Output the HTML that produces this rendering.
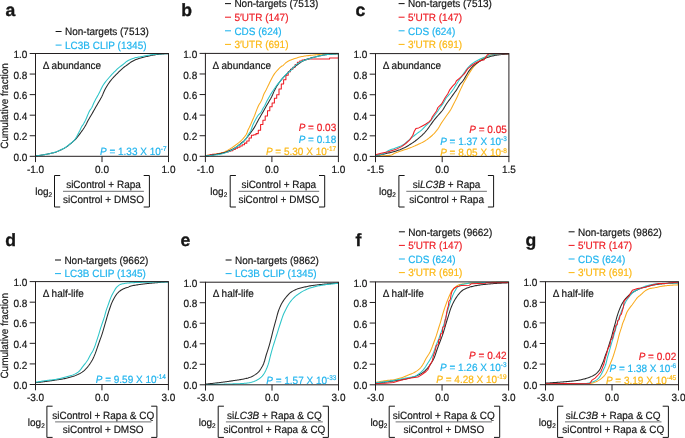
<!DOCTYPE html>
<html><head><meta charset="utf-8"><style>
html,body{margin:0;padding:0;background:#fff;}
svg{display:block;font-family:"Liberation Sans", sans-serif;text-rendering:geometricPrecision;}
body{filter:grayscale(0.0001);}
</style></head><body>
<svg width="685" height="438" viewBox="0 0 685 438">
<text transform="translate(5.60,16.00) scale(1,1.0)" fill="#151515" stroke="#151515" stroke-width="0.35" font-size="17.6" text-anchor="start" font-weight="bold" font-style="normal" >a</text>
<line x1="55.60" y1="31.50" x2="61.60" y2="31.50" stroke="#151515" stroke-width="1.05"/>
<text transform="translate(65.00,35.25) scale(1,1.05)" fill="#151515" stroke="#151515" stroke-width="0.18" font-size="10" text-anchor="start" font-weight="normal" font-style="normal" >Non-targets (7513)</text>
<line x1="55.60" y1="45.10" x2="61.60" y2="45.10" stroke="#20b4ee" stroke-width="1.05"/>
<text transform="translate(65.00,48.85) scale(1,1.05)" fill="#20b4ee" stroke="#20b4ee" stroke-width="0.18" font-size="10" text-anchor="start" font-weight="normal" font-style="normal" >LC3B CLIP (1345)</text>
<line x1="29.7" y1="156.30" x2="35.5" y2="156.30" stroke="#231f20" stroke-width="1"/>
<text transform="translate(27.30,160.95) scale(1,1.05)" fill="#151515" stroke="#151515" stroke-width="0.18" font-size="10" text-anchor="end" font-weight="normal" font-style="normal" >0.0</text>
<line x1="29.7" y1="135.74" x2="35.5" y2="135.74" stroke="#231f20" stroke-width="1"/>
<text transform="translate(27.30,140.39) scale(1,1.05)" fill="#151515" stroke="#151515" stroke-width="0.18" font-size="10" text-anchor="end" font-weight="normal" font-style="normal" >0.2</text>
<line x1="29.7" y1="115.18" x2="35.5" y2="115.18" stroke="#231f20" stroke-width="1"/>
<text transform="translate(27.30,119.83) scale(1,1.05)" fill="#151515" stroke="#151515" stroke-width="0.18" font-size="10" text-anchor="end" font-weight="normal" font-style="normal" >0.4</text>
<line x1="29.7" y1="94.62" x2="35.5" y2="94.62" stroke="#231f20" stroke-width="1"/>
<text transform="translate(27.30,99.27) scale(1,1.05)" fill="#151515" stroke="#151515" stroke-width="0.18" font-size="10" text-anchor="end" font-weight="normal" font-style="normal" >0.6</text>
<line x1="29.7" y1="74.06" x2="35.5" y2="74.06" stroke="#231f20" stroke-width="1"/>
<text transform="translate(27.30,78.71) scale(1,1.05)" fill="#151515" stroke="#151515" stroke-width="0.18" font-size="10" text-anchor="end" font-weight="normal" font-style="normal" >0.8</text>
<line x1="29.7" y1="53.50" x2="35.5" y2="53.50" stroke="#231f20" stroke-width="1"/>
<text transform="translate(27.30,58.15) scale(1,1.05)" fill="#151515" stroke="#151515" stroke-width="0.18" font-size="10" text-anchor="end" font-weight="normal" font-style="normal" >1.0</text>
<line x1="35.5" y1="156.3" x2="35.5" y2="162.10000000000002" stroke="#231f20" stroke-width="1"/>
<text transform="translate(35.50,172.95) scale(1,1.05)" fill="#151515" stroke="#151515" stroke-width="0.18" font-size="10" text-anchor="middle" font-weight="normal" font-style="normal" >-1.0</text>
<line x1="102.0" y1="156.3" x2="102.0" y2="162.10000000000002" stroke="#231f20" stroke-width="1"/>
<text transform="translate(102.00,172.95) scale(1,1.05)" fill="#151515" stroke="#151515" stroke-width="0.18" font-size="10" text-anchor="middle" font-weight="normal" font-style="normal" >0.0</text>
<line x1="168.5" y1="156.3" x2="168.5" y2="162.10000000000002" stroke="#231f20" stroke-width="1"/>
<text transform="translate(168.50,172.95) scale(1,1.05)" fill="#151515" stroke="#151515" stroke-width="0.18" font-size="10" text-anchor="middle" font-weight="normal" font-style="normal" >1.0</text>
<text transform="translate(7.85,106.0) rotate(-90) scale(1,1.05)" fill="#151515" stroke="#151515" stroke-width="0.18" font-size="10" text-anchor="middle">Cumulative fraction</text>
<text transform="translate(42.70,68.95) scale(1,1.05)" fill="#151515" stroke="#151515" stroke-width="0.18" font-size="10" text-anchor="start" font-weight="normal" font-style="normal" >&#916; abundance</text>
<path d="M35.50,155.80 L36.42,155.70 L37.34,155.61 L38.26,155.51 L39.18,155.41 L40.10,155.30 L40.95,155.19 L41.80,155.06 L42.65,154.93 L43.50,154.79 L44.35,154.65 L45.20,154.50 L46.05,154.35 L46.90,154.19 L47.75,154.03 L48.60,153.86 L49.45,153.68 L50.30,153.50 L51.15,153.31 L52.00,153.11 L52.85,152.91 L53.70,152.69 L54.55,152.46 L55.40,152.20 L56.25,151.91 L57.10,151.59 L57.95,151.24 L58.80,150.87 L59.65,150.49 L60.50,150.10 L61.37,149.70 L62.23,149.28 L63.10,148.85 L63.97,148.40 L64.83,147.92 L65.70,147.40 L66.55,146.84 L67.40,146.23 L68.25,145.58 L69.10,144.90 L69.95,144.20 L70.80,143.50 L71.62,142.83 L72.44,142.15 L73.26,141.44 L74.08,140.70 L74.90,139.90 L75.90,138.82 L76.90,137.63 L77.90,136.40 L78.68,135.42 L79.45,134.40 L80.22,133.36 L81.00,132.30 L82.00,130.92 L83.00,129.50 L84.00,128.00 L84.90,126.55 L85.80,125.00 L86.60,123.47 L87.40,121.85 L88.20,120.30 L89.13,118.65 L90.07,117.08 L91.00,115.50 L91.90,113.94 L92.80,112.38 L93.70,110.80 L94.60,109.20 L95.50,107.59 L96.40,106.00 L97.33,104.39 L98.27,102.81 L99.20,101.20 L100.10,99.66 L101.00,98.09 L101.90,96.40 L102.80,94.42 L103.70,92.28 L104.60,90.30 L105.50,88.58 L106.40,86.99 L107.30,85.50 L108.23,84.05 L109.17,82.68 L110.10,81.40 L110.95,80.30 L111.80,79.25 L112.65,78.25 L113.50,77.30 L114.35,76.41 L115.20,75.56 L116.05,74.74 L116.90,73.90 L117.72,73.07 L118.54,72.22 L119.36,71.38 L120.18,70.57 L121.00,69.80 L121.82,69.07 L122.64,68.37 L123.46,67.69 L124.28,67.03 L125.10,66.40 L125.90,65.82 L126.70,65.26 L127.50,64.70 L128.40,64.01 L129.30,63.30 L130.20,62.61 L131.10,62.00 L132.06,61.44 L133.02,60.92 L133.98,60.44 L134.94,60.00 L135.90,59.60 L136.86,59.23 L137.82,58.89 L138.78,58.58 L139.74,58.28 L140.70,58.00 L141.61,57.74 L142.53,57.50 L143.44,57.27 L144.36,57.04 L145.27,56.83 L146.19,56.61 L147.10,56.40 L148.03,56.18 L148.96,55.96 L149.89,55.75 L150.81,55.54 L151.74,55.34 L152.67,55.16 L153.60,55.00 L154.51,54.86 L155.43,54.73 L156.34,54.60 L157.26,54.49 L158.17,54.38 L159.09,54.29 L160.00,54.20 L160.94,54.12 L161.89,54.04 L162.83,53.97 L163.78,53.91 L164.72,53.85 L165.67,53.79 L166.61,53.73 L167.56,53.66 L168.50,53.60" fill="none" stroke="#2a2a2a" stroke-width="1.05" stroke-linejoin="round"/>
<path d="M35.50,155.80 L36.42,155.70 L37.34,155.61 L38.26,155.51 L39.18,155.41 L40.10,155.30 L40.95,155.19 L41.80,155.06 L42.65,154.93 L43.50,154.79 L44.35,154.65 L45.20,154.50 L46.05,154.35 L46.90,154.20 L47.75,154.03 L48.60,153.87 L49.45,153.69 L50.30,153.50 L51.15,153.30 L52.00,153.09 L52.85,152.86 L53.70,152.63 L54.55,152.37 L55.40,152.10 L56.25,151.81 L57.10,151.48 L57.95,151.14 L58.80,150.77 L59.65,150.39 L60.50,150.00 L61.37,149.59 L62.23,149.16 L63.10,148.71 L63.97,148.23 L64.83,147.73 L65.70,147.20 L66.55,146.63 L67.40,146.02 L68.25,145.36 L69.10,144.68 L69.95,143.99 L70.80,143.30 L71.70,142.59 L72.60,141.85 L73.50,141.00 L74.30,140.10 L75.10,139.06 L75.90,137.90 L76.90,136.19 L77.90,134.30 L78.60,132.97 L79.30,131.59 L80.00,130.20 L81.00,128.05 L82.00,126.10 L82.55,125.34 L83.10,124.60 L83.90,123.31 L84.70,121.88 L85.50,120.30 L86.50,117.96 L87.50,115.50 L88.20,113.84 L88.90,112.21 L89.60,110.80 L90.40,109.59 L91.20,108.55 L92.00,107.30 L92.85,105.32 L93.70,103.20 L94.40,101.75 L95.10,100.41 L95.80,99.10 L96.57,97.72 L97.33,96.38 L98.10,95.00 L98.90,93.47 L99.70,91.90 L100.50,90.30 L101.50,88.18 L102.50,86.20 L103.43,84.70 L104.37,83.36 L105.30,82.10 L106.15,81.01 L107.00,79.98 L107.85,78.98 L108.70,78.00 L109.55,77.02 L110.40,76.06 L111.25,75.11 L112.10,74.20 L112.95,73.32 L113.80,72.47 L114.65,71.63 L115.50,70.80 L116.43,69.87 L117.37,68.95 L118.30,68.10 L119.20,67.36 L120.10,66.68 L121.00,66.00 L122.00,65.25 L123.00,64.50 L124.00,63.66 L125.00,62.77 L126.00,61.91 L127.00,61.20 L127.82,60.72 L128.64,60.29 L129.46,59.90 L130.28,59.54 L131.10,59.20 L132.06,58.83 L133.02,58.47 L133.98,58.14 L134.94,57.85 L135.90,57.60 L136.83,57.40 L137.77,57.22 L138.70,57.07 L139.63,56.92 L140.57,56.76 L141.50,56.60 L142.43,56.42 L143.37,56.24 L144.30,56.05 L145.23,55.86 L146.17,55.68 L147.10,55.50 L148.03,55.33 L148.96,55.15 L149.89,54.97 L150.81,54.81 L151.74,54.65 L152.67,54.51 L153.60,54.40 L154.51,54.31 L155.43,54.22 L156.34,54.14 L157.26,54.07 L158.17,54.01 L159.09,53.95 L160.00,53.90 L160.94,53.86 L161.89,53.82 L162.83,53.78 L163.78,53.75 L164.72,53.72 L165.67,53.69 L166.61,53.66 L167.56,53.63 L168.50,53.60" fill="none" stroke="#2cc5c8" stroke-width="1.05" stroke-linejoin="round"/>
<rect x="35.5" y="53.5" width="133.00" height="102.80" fill="none" stroke="#231f20" stroke-width="1"/>
<text transform="translate(166.60,154.75) scale(1,1.05)" fill="#20b4ee" stroke="#20b4ee" stroke-width="0.18" font-size="10" text-anchor="end"><tspan font-style="italic">P</tspan> = 1.33 X 10<tspan font-size="6.5" dy="-3.7">-7</tspan></text>
<text transform="translate(35.20,195.05) scale(1,1.05)" fill="#151515" stroke="#151515" stroke-width="0.18" font-size="10" text-anchor="start" font-weight="normal" font-style="normal" >log<tspan font-size="6.4" dy="2.2">2</tspan></text>
<path d="M60.2,175.5 H54.5 V207.0 H60.2" fill="none" stroke="#151515" stroke-width="1"/>
<path d="M143.70000000000002,175.5 H149.4 V207.0 H143.70000000000002" fill="none" stroke="#151515" stroke-width="1"/>
<line x1="63.0" y1="191.3" x2="143.9" y2="191.3" stroke="#6d6e71" stroke-width="1"/>
<text transform="translate(103.50,187.85) scale(1,1.05)" fill="#151515" stroke="#151515" stroke-width="0.18" font-size="10" text-anchor="middle" font-weight="normal" font-style="normal" >siControl + Rapa</text>
<text transform="translate(103.50,202.75) scale(1,1.05)" fill="#151515" stroke="#151515" stroke-width="0.18" font-size="10" text-anchor="middle" font-weight="normal" font-style="normal" >siControl + DMSO</text>
<text transform="translate(181.30,15.70) scale(1,1.0)" fill="#151515" stroke="#151515" stroke-width="0.35" font-size="17.6" text-anchor="start" font-weight="bold" font-style="normal" >b</text>
<line x1="225.00" y1="3.60" x2="231.00" y2="3.60" stroke="#151515" stroke-width="1.05"/>
<text transform="translate(234.40,7.35) scale(1,1.05)" fill="#151515" stroke="#151515" stroke-width="0.18" font-size="10" text-anchor="start" font-weight="normal" font-style="normal" >Non-targets (7513)</text>
<line x1="225.00" y1="17.20" x2="231.00" y2="17.20" stroke="#ee1d25" stroke-width="1.05"/>
<text transform="translate(234.40,20.95) scale(1,1.05)" fill="#ee1d25" stroke="#ee1d25" stroke-width="0.18" font-size="10" text-anchor="start" font-weight="normal" font-style="normal" >5′UTR (147)</text>
<line x1="225.00" y1="30.80" x2="231.00" y2="30.80" stroke="#20b4ee" stroke-width="1.05"/>
<text transform="translate(234.40,34.55) scale(1,1.05)" fill="#20b4ee" stroke="#20b4ee" stroke-width="0.18" font-size="10" text-anchor="start" font-weight="normal" font-style="normal" >CDS (624)</text>
<line x1="225.00" y1="44.40" x2="231.00" y2="44.40" stroke="#fcb814" stroke-width="1.05"/>
<text transform="translate(234.40,48.15) scale(1,1.05)" fill="#fcb814" stroke="#fcb814" stroke-width="0.18" font-size="10" text-anchor="start" font-weight="normal" font-style="normal" >3′UTR (691)</text>
<line x1="199.6" y1="156.30" x2="205.4" y2="156.30" stroke="#231f20" stroke-width="1"/>
<text transform="translate(197.20,160.95) scale(1,1.05)" fill="#151515" stroke="#151515" stroke-width="0.18" font-size="10" text-anchor="end" font-weight="normal" font-style="normal" >0.0</text>
<line x1="199.6" y1="135.72" x2="205.4" y2="135.72" stroke="#231f20" stroke-width="1"/>
<text transform="translate(197.20,140.37) scale(1,1.05)" fill="#151515" stroke="#151515" stroke-width="0.18" font-size="10" text-anchor="end" font-weight="normal" font-style="normal" >0.2</text>
<line x1="199.6" y1="115.14" x2="205.4" y2="115.14" stroke="#231f20" stroke-width="1"/>
<text transform="translate(197.20,119.79) scale(1,1.05)" fill="#151515" stroke="#151515" stroke-width="0.18" font-size="10" text-anchor="end" font-weight="normal" font-style="normal" >0.4</text>
<line x1="199.6" y1="94.56" x2="205.4" y2="94.56" stroke="#231f20" stroke-width="1"/>
<text transform="translate(197.20,99.21) scale(1,1.05)" fill="#151515" stroke="#151515" stroke-width="0.18" font-size="10" text-anchor="end" font-weight="normal" font-style="normal" >0.6</text>
<line x1="199.6" y1="73.98" x2="205.4" y2="73.98" stroke="#231f20" stroke-width="1"/>
<text transform="translate(197.20,78.63) scale(1,1.05)" fill="#151515" stroke="#151515" stroke-width="0.18" font-size="10" text-anchor="end" font-weight="normal" font-style="normal" >0.8</text>
<line x1="199.6" y1="53.40" x2="205.4" y2="53.40" stroke="#231f20" stroke-width="1"/>
<text transform="translate(197.20,58.05) scale(1,1.05)" fill="#151515" stroke="#151515" stroke-width="0.18" font-size="10" text-anchor="end" font-weight="normal" font-style="normal" >1.0</text>
<line x1="205.4" y1="156.3" x2="205.4" y2="162.10000000000002" stroke="#231f20" stroke-width="1"/>
<text transform="translate(205.40,172.95) scale(1,1.05)" fill="#151515" stroke="#151515" stroke-width="0.18" font-size="10" text-anchor="middle" font-weight="normal" font-style="normal" >-1.0</text>
<line x1="271.9" y1="156.3" x2="271.9" y2="162.10000000000002" stroke="#231f20" stroke-width="1"/>
<text transform="translate(271.90,172.95) scale(1,1.05)" fill="#151515" stroke="#151515" stroke-width="0.18" font-size="10" text-anchor="middle" font-weight="normal" font-style="normal" >0.0</text>
<line x1="338.4" y1="156.3" x2="338.4" y2="162.10000000000002" stroke="#231f20" stroke-width="1"/>
<text transform="translate(338.40,172.95) scale(1,1.05)" fill="#151515" stroke="#151515" stroke-width="0.18" font-size="10" text-anchor="middle" font-weight="normal" font-style="normal" >1.0</text>
<text transform="translate(212.60,68.85) scale(1,1.05)" fill="#151515" stroke="#151515" stroke-width="0.18" font-size="10" text-anchor="start" font-weight="normal" font-style="normal" >&#916; abundance</text>
<path d="M205.40,155.60 L206.38,155.46 L207.36,155.33 L208.34,155.20 L209.32,155.08 L210.30,154.95 L211.28,154.81 L212.26,154.68 L213.24,154.53 L214.22,154.37 L215.20,154.20 L216.11,154.03 L217.02,153.85 L217.93,153.66 L218.84,153.46 L219.76,153.24 L220.67,153.01 L221.58,152.76 L222.49,152.49 L223.40,152.20 L224.29,151.88 L225.18,151.50 L226.06,151.08 L226.95,150.63 L227.84,150.15 L228.72,149.64 L229.61,149.12 L230.50,148.60 L231.37,148.07 L232.23,147.50 L233.10,146.89 L233.97,146.27 L234.83,145.64 L235.70,145.00 L236.55,144.38 L237.40,143.76 L238.25,143.12 L239.10,142.46 L239.95,141.76 L240.80,141.00 L241.62,140.21 L242.44,139.35 L243.26,138.44 L244.08,137.45 L244.90,136.40 L245.90,135.06 L246.90,133.30 L247.40,131.79 L247.90,130.20 L248.60,128.70 L249.30,127.44 L250.00,126.10 L250.83,124.24 L251.67,122.26 L252.50,120.30 L253.20,118.72 L253.90,117.16 L254.60,115.50 L255.27,113.73 L255.93,111.87 L256.60,110.10 L257.30,108.38 L258.00,106.76 L258.70,105.30 L259.40,104.08 L260.10,102.99 L260.80,101.80 L261.45,100.54 L262.10,99.10 L262.80,97.05 L263.50,95.00 L264.40,93.07 L265.30,91.39 L266.20,89.70 L267.10,87.88 L268.00,86.04 L268.90,84.20 L269.80,82.33 L270.70,80.46 L271.60,78.70 L272.53,76.98 L273.47,75.35 L274.40,73.90 L275.25,72.75 L276.10,71.71 L276.95,70.73 L277.80,69.80 L278.70,68.83 L279.60,67.91 L280.50,67.10 L281.27,66.54 L282.05,66.06 L282.83,65.58 L283.60,65.00 L284.55,63.99 L285.50,63.00 L286.38,62.34 L287.25,61.76 L288.12,61.25 L289.00,60.80 L290.00,60.34 L291.00,59.93 L292.00,59.56 L293.00,59.20 L293.98,58.85 L294.96,58.52 L295.94,58.19 L296.92,57.89 L297.90,57.60 L298.86,57.33 L299.82,57.07 L300.78,56.82 L301.74,56.59 L302.70,56.40 L303.61,56.24 L304.53,56.10 L305.44,55.96 L306.36,55.84 L307.27,55.72 L308.19,55.61 L309.10,55.50 L310.10,55.39 L311.10,55.28 L312.10,55.17 L313.10,55.08 L314.10,54.98 L315.10,54.89 L316.10,54.79 L317.10,54.70 L318.00,54.61 L318.90,54.53 L319.80,54.44 L320.70,54.35 L321.60,54.26 L322.50,54.18 L323.40,54.11 L324.30,54.05 L325.20,54.00 L326.14,53.96 L327.09,53.92 L328.03,53.89 L328.97,53.85 L329.91,53.83 L330.86,53.80 L331.80,53.77 L332.74,53.75 L333.69,53.73 L334.63,53.70 L335.57,53.68 L336.51,53.65 L337.46,53.63 L338.40,53.60" fill="none" stroke="#f9ab1e" stroke-width="1.05" stroke-linejoin="round"/>
<path d="M205.40,155.80 H207.70 V155.15 H210.00 V154.62 H212.30 V154.36 H214.60 V154.18 H216.90 V153.95 H219.20 V153.55 H221.50 V152.98 H223.80 V152.41 H226.10 V151.89 H228.40 V151.33 H230.70 V150.62 H233.00 V149.56 H235.30 V148.31 H237.60 V147.17 H239.90 V146.00 H242.20 V144.67 H244.50 V143.13 H246.80 V141.07 H249.10 V138.07 H251.40 V135.16 H253.70 V134.68 H256.00 V133.62 H258.30 V130.26 H260.60 V124.50 H262.90 V120.18 H265.20 V115.98 H267.50 V110.77 H269.80 V106.70 H272.10 V102.90 H274.40 V98.20 H276.70 V94.66 H279.00 V89.04 H281.30 V84.06 H283.60 V79.82 H285.90 V75.32 H288.20 V71.69 H290.50 V69.33 H292.80 V67.20 H295.10 V64.45 H297.40 V62.36 H299.70 V60.98 H302.00 V60.14 H304.30 V59.64 H306.60 V59.25 H308.90 V59.01 H311.20 V59.00 H313.50 V59.00 H315.80 V59.00 H318.10 V59.00 H320.40 V59.00 H322.70 V59.00 H325.00 V59.00 H327.30 V59.00 H329.60 V58.00 H331.90 V58.00 H334.20 V58.00 H336.50 V58.00 H338.40 V58.00" fill="none" stroke="#ee1d25" stroke-width="1.05" stroke-linejoin="round"/>
<path d="M205.40,155.90 L206.32,155.80 L207.24,155.71 L208.16,155.61 L209.08,155.51 L210.00,155.40 L210.85,155.29 L211.70,155.16 L212.55,155.03 L213.40,154.89 L214.25,154.75 L215.10,154.60 L215.95,154.45 L216.80,154.29 L217.65,154.13 L218.50,153.96 L219.35,153.78 L220.20,153.60 L221.05,153.41 L221.90,153.21 L222.75,153.01 L223.60,152.79 L224.45,152.56 L225.30,152.30 L226.15,152.01 L227.00,151.69 L227.85,151.34 L228.70,150.97 L229.55,150.59 L230.40,150.20 L231.27,149.80 L232.13,149.38 L233.00,148.95 L233.87,148.50 L234.73,148.02 L235.60,147.50 L236.45,146.94 L237.30,146.33 L238.15,145.68 L239.00,145.00 L239.85,144.30 L240.70,143.60 L241.52,142.93 L242.34,142.25 L243.16,141.54 L243.98,140.80 L244.80,140.00 L245.80,138.92 L246.80,137.73 L247.80,136.50 L248.58,135.52 L249.35,134.50 L250.12,133.46 L250.90,132.40 L251.90,131.02 L252.90,129.60 L253.90,128.10 L254.80,126.65 L255.70,125.10 L256.50,123.57 L257.30,121.95 L258.10,120.40 L259.03,118.75 L259.97,117.18 L260.90,115.60 L261.80,114.04 L262.70,112.48 L263.60,110.90 L264.50,109.30 L265.40,107.69 L266.30,106.10 L267.23,104.49 L268.17,102.91 L269.10,101.30 L270.00,99.76 L270.90,98.19 L271.80,96.50 L272.70,94.52 L273.60,92.38 L274.50,90.40 L275.40,88.68 L276.30,87.09 L277.20,85.60 L278.13,84.15 L279.07,82.78 L280.00,81.50 L280.85,80.40 L281.70,79.35 L282.55,78.35 L283.40,77.40 L284.25,76.51 L285.10,75.66 L285.95,74.84 L286.80,74.00 L287.62,73.17 L288.44,72.32 L289.26,71.48 L290.08,70.67 L290.90,69.90 L291.72,69.17 L292.54,68.47 L293.36,67.79 L294.18,67.13 L295.00,66.50 L295.80,65.92 L296.60,65.36 L297.40,64.80 L298.30,64.11 L299.20,63.40 L300.10,62.71 L301.00,62.10 L301.96,61.54 L302.92,61.02 L303.88,60.54 L304.84,60.10 L305.80,59.70 L306.76,59.33 L307.72,58.99 L308.68,58.68 L309.64,58.38 L310.60,58.10 L311.51,57.84 L312.43,57.60 L313.34,57.37 L314.26,57.14 L315.17,56.93 L316.09,56.71 L317.00,56.50 L317.93,56.28 L318.86,56.06 L319.79,55.85 L320.71,55.64 L321.64,55.44 L322.57,55.26 L323.50,55.10 L324.41,54.96 L325.33,54.83 L326.24,54.70 L327.16,54.59 L328.07,54.48 L328.99,54.39 L329.90,54.30 L330.84,54.22 L331.79,54.14 L332.73,54.07 L333.68,54.01 L334.62,53.95 L335.57,53.89 L336.51,53.83 L337.46,53.76 L338.40,53.70" fill="none" stroke="#2a2a2a" stroke-width="1.05" stroke-linejoin="round"/>
<path d="M205.40,156.00 L206.39,155.88 L207.39,155.77 L208.38,155.67 L209.37,155.57 L210.37,155.47 L211.36,155.37 L212.35,155.27 L213.35,155.17 L214.34,155.06 L215.33,154.94 L216.33,154.82 L217.32,154.68 L218.31,154.53 L219.31,154.37 L220.30,154.20 L221.23,154.01 L222.15,153.79 L223.08,153.54 L224.01,153.26 L224.94,152.96 L225.86,152.63 L226.79,152.28 L227.72,151.91 L228.65,151.52 L229.57,151.12 L230.50,150.70 L231.40,150.26 L232.30,149.75 L233.20,149.19 L234.10,148.60 L235.00,147.98 L235.90,147.35 L236.80,146.72 L237.70,146.10 L238.55,145.54 L239.40,145.00 L240.25,144.44 L241.10,143.86 L241.95,143.22 L242.80,142.50 L243.58,141.76 L244.35,140.91 L245.12,139.96 L245.90,138.90 L246.90,137.17 L247.90,135.30 L248.68,134.06 L249.45,132.90 L250.22,131.67 L251.00,130.20 L251.90,127.75 L252.80,125.20 L253.70,123.23 L254.60,121.47 L255.50,119.80 L256.33,118.25 L257.17,116.77 L258.00,115.50 L258.77,114.59 L259.55,113.84 L260.33,113.07 L261.10,112.10 L261.95,110.47 L262.80,108.70 L263.50,107.55 L264.20,106.48 L264.90,105.30 L265.55,103.93 L266.20,102.50 L266.90,101.08 L267.60,99.71 L268.30,98.40 L269.30,96.65 L270.30,95.00 L271.15,93.63 L272.00,92.29 L272.85,90.98 L273.70,89.70 L274.55,88.45 L275.40,87.22 L276.25,86.04 L277.10,84.90 L277.95,83.83 L278.80,82.81 L279.65,81.81 L280.50,80.80 L281.38,79.73 L282.25,78.65 L283.12,77.60 L284.00,76.60 L284.85,75.69 L285.70,74.81 L286.55,73.98 L287.40,73.20 L288.25,72.51 L289.10,71.89 L289.95,71.25 L290.80,70.50 L291.53,69.66 L292.27,68.69 L293.00,67.80 L294.00,66.76 L295.00,65.78 L296.00,64.89 L297.00,64.10 L297.82,63.52 L298.64,62.98 L299.46,62.48 L300.28,62.02 L301.10,61.60 L302.10,61.14 L303.10,60.73 L304.10,60.35 L305.10,60.00 L306.10,59.68 L307.10,59.38 L308.10,59.09 L309.10,58.80 L310.10,58.50 L311.10,58.20 L312.10,57.90 L313.10,57.60 L314.10,57.29 L315.10,56.98 L316.10,56.68 L317.10,56.40 L318.10,56.15 L319.10,55.92 L320.10,55.70 L321.10,55.50 L321.92,55.34 L322.74,55.19 L323.56,55.04 L324.38,54.91 L325.20,54.80 L326.11,54.69 L327.03,54.59 L327.94,54.49 L328.86,54.41 L329.77,54.33 L330.69,54.26 L331.60,54.20 L332.57,54.15 L333.54,54.10 L334.51,54.06 L335.49,54.02 L336.46,53.98 L337.43,53.94 L338.40,53.90" fill="none" stroke="#2cc5c8" stroke-width="1.05" stroke-linejoin="round"/>
<rect x="205.4" y="53.4" width="133.00" height="102.90" fill="none" stroke="#231f20" stroke-width="1"/>
<text transform="translate(336.20,131.15) scale(1,1.05)" fill="#ee1d25" stroke="#ee1d25" stroke-width="0.18" font-size="10" text-anchor="end"><tspan font-style="italic">P</tspan> = 0.03</text>
<text transform="translate(336.20,143.05) scale(1,1.05)" fill="#20b4ee" stroke="#20b4ee" stroke-width="0.18" font-size="10" text-anchor="end"><tspan font-style="italic">P</tspan> = 0.18</text>
<text transform="translate(336.20,154.95) scale(1,1.05)" fill="#fcb814" stroke="#fcb814" stroke-width="0.18" font-size="10" text-anchor="end"><tspan font-style="italic">P</tspan> = 5.30 X 10<tspan font-size="6.5" dy="-3.7">-17</tspan></text>
<text transform="translate(210.30,195.05) scale(1,1.05)" fill="#151515" stroke="#151515" stroke-width="0.18" font-size="10" text-anchor="start" font-weight="normal" font-style="normal" >log<tspan font-size="6.4" dy="2.2">2</tspan></text>
<path d="M235.89999999999998,175.5 H230.2 V207.0 H235.89999999999998" fill="none" stroke="#151515" stroke-width="1"/>
<path d="M319.0,175.5 H324.7 V207.0 H319.0" fill="none" stroke="#151515" stroke-width="1"/>
<line x1="238.3" y1="191.3" x2="319.2" y2="191.3" stroke="#6d6e71" stroke-width="1"/>
<text transform="translate(278.80,187.85) scale(1,1.05)" fill="#151515" stroke="#151515" stroke-width="0.18" font-size="10" text-anchor="middle" font-weight="normal" font-style="normal" >siControl + Rapa</text>
<text transform="translate(278.80,202.75) scale(1,1.05)" fill="#151515" stroke="#151515" stroke-width="0.18" font-size="10" text-anchor="middle" font-weight="normal" font-style="normal" >siControl + DMSO</text>
<text transform="translate(355.50,16.20) scale(1,1.0)" fill="#151515" stroke="#151515" stroke-width="0.35" font-size="17.6" text-anchor="start" font-weight="bold" font-style="normal" >c</text>
<line x1="398.60" y1="3.60" x2="404.60" y2="3.60" stroke="#151515" stroke-width="1.05"/>
<text transform="translate(408.00,7.35) scale(1,1.05)" fill="#151515" stroke="#151515" stroke-width="0.18" font-size="10" text-anchor="start" font-weight="normal" font-style="normal" >Non-targets (7513)</text>
<line x1="398.60" y1="17.20" x2="404.60" y2="17.20" stroke="#ee1d25" stroke-width="1.05"/>
<text transform="translate(408.00,20.95) scale(1,1.05)" fill="#ee1d25" stroke="#ee1d25" stroke-width="0.18" font-size="10" text-anchor="start" font-weight="normal" font-style="normal" >5′UTR (147)</text>
<line x1="398.60" y1="30.80" x2="404.60" y2="30.80" stroke="#20b4ee" stroke-width="1.05"/>
<text transform="translate(408.00,34.55) scale(1,1.05)" fill="#20b4ee" stroke="#20b4ee" stroke-width="0.18" font-size="10" text-anchor="start" font-weight="normal" font-style="normal" >CDS (624)</text>
<line x1="398.60" y1="44.40" x2="404.60" y2="44.40" stroke="#fcb814" stroke-width="1.05"/>
<text transform="translate(408.00,48.15) scale(1,1.05)" fill="#fcb814" stroke="#fcb814" stroke-width="0.18" font-size="10" text-anchor="start" font-weight="normal" font-style="normal" >3′UTR (691)</text>
<line x1="369.7" y1="156.40" x2="375.5" y2="156.40" stroke="#231f20" stroke-width="1"/>
<text transform="translate(367.30,161.05) scale(1,1.05)" fill="#151515" stroke="#151515" stroke-width="0.18" font-size="10" text-anchor="end" font-weight="normal" font-style="normal" >0.0</text>
<line x1="369.7" y1="135.84" x2="375.5" y2="135.84" stroke="#231f20" stroke-width="1"/>
<text transform="translate(367.30,140.49) scale(1,1.05)" fill="#151515" stroke="#151515" stroke-width="0.18" font-size="10" text-anchor="end" font-weight="normal" font-style="normal" >0.2</text>
<line x1="369.7" y1="115.28" x2="375.5" y2="115.28" stroke="#231f20" stroke-width="1"/>
<text transform="translate(367.30,119.93) scale(1,1.05)" fill="#151515" stroke="#151515" stroke-width="0.18" font-size="10" text-anchor="end" font-weight="normal" font-style="normal" >0.4</text>
<line x1="369.7" y1="94.72" x2="375.5" y2="94.72" stroke="#231f20" stroke-width="1"/>
<text transform="translate(367.30,99.37) scale(1,1.05)" fill="#151515" stroke="#151515" stroke-width="0.18" font-size="10" text-anchor="end" font-weight="normal" font-style="normal" >0.6</text>
<line x1="369.7" y1="74.16" x2="375.5" y2="74.16" stroke="#231f20" stroke-width="1"/>
<text transform="translate(367.30,78.81) scale(1,1.05)" fill="#151515" stroke="#151515" stroke-width="0.18" font-size="10" text-anchor="end" font-weight="normal" font-style="normal" >0.8</text>
<line x1="369.7" y1="53.60" x2="375.5" y2="53.60" stroke="#231f20" stroke-width="1"/>
<text transform="translate(367.30,58.25) scale(1,1.05)" fill="#151515" stroke="#151515" stroke-width="0.18" font-size="10" text-anchor="end" font-weight="normal" font-style="normal" >1.0</text>
<line x1="375.5" y1="156.4" x2="375.5" y2="162.20000000000002" stroke="#231f20" stroke-width="1"/>
<text transform="translate(375.50,173.05) scale(1,1.05)" fill="#151515" stroke="#151515" stroke-width="0.18" font-size="10" text-anchor="middle" font-weight="normal" font-style="normal" >-1.5</text>
<line x1="442.2" y1="156.4" x2="442.2" y2="162.20000000000002" stroke="#231f20" stroke-width="1"/>
<text transform="translate(442.20,173.05) scale(1,1.05)" fill="#151515" stroke="#151515" stroke-width="0.18" font-size="10" text-anchor="middle" font-weight="normal" font-style="normal" >0.0</text>
<line x1="508.9" y1="156.4" x2="508.9" y2="162.20000000000002" stroke="#231f20" stroke-width="1"/>
<text transform="translate(508.90,173.05) scale(1,1.05)" fill="#151515" stroke="#151515" stroke-width="0.18" font-size="10" text-anchor="middle" font-weight="normal" font-style="normal" >1.5</text>
<text transform="translate(382.70,69.05) scale(1,1.05)" fill="#151515" stroke="#151515" stroke-width="0.18" font-size="10" text-anchor="start" font-weight="normal" font-style="normal" >&#916; abundance</text>
<path d="M375.50,156.00 L376.49,155.96 L377.47,155.92 L378.46,155.88 L379.45,155.85 L380.43,155.82 L381.42,155.79 L382.41,155.76 L383.39,155.73 L384.38,155.69 L385.37,155.65 L386.35,155.60 L387.34,155.54 L388.33,155.47 L389.31,155.39 L390.30,155.30 L391.15,155.11 L392.00,154.75 L392.85,154.29 L393.70,153.79 L394.55,153.30 L395.40,152.90 L396.31,152.55 L397.22,152.21 L398.13,151.90 L399.04,151.59 L399.96,151.29 L400.87,151.00 L401.78,150.71 L402.69,150.41 L403.60,150.10 L404.50,149.79 L405.40,149.49 L406.30,149.19 L407.20,148.89 L408.10,148.58 L409.00,148.27 L409.90,147.94 L410.80,147.60 L411.69,147.25 L412.57,146.88 L413.46,146.51 L414.35,146.12 L415.24,145.72 L416.12,145.32 L417.01,144.91 L417.90,144.50 L418.77,144.10 L419.64,143.70 L420.51,143.29 L421.39,142.88 L422.26,142.44 L423.13,141.99 L424.00,141.50 L424.87,140.98 L425.73,140.42 L426.60,139.83 L427.47,139.21 L428.33,138.57 L429.20,137.90 L430.05,137.22 L430.90,136.51 L431.75,135.77 L432.60,134.99 L433.45,134.17 L434.30,133.30 L435.12,132.41 L435.94,131.45 L436.76,130.44 L437.58,129.35 L438.40,128.20 L439.40,126.58 L440.40,124.80 L441.40,123.10 L442.10,122.03 L442.80,121.01 L443.50,120.00 L444.38,118.74 L445.25,117.49 L446.12,116.25 L447.00,115.00 L447.88,113.78 L448.75,112.59 L449.62,111.35 L450.50,110.00 L451.38,108.47 L452.25,106.80 L453.12,105.05 L454.00,103.30 L454.85,101.62 L455.70,99.91 L456.55,98.17 L457.40,96.40 L458.25,94.56 L459.10,92.66 L459.95,90.75 L460.80,88.90 L461.60,87.19 L462.40,85.50 L463.20,83.86 L464.00,82.30 L464.90,80.67 L465.80,79.12 L466.70,77.61 L467.60,76.10 L468.43,74.68 L469.25,73.26 L470.07,71.88 L470.90,70.60 L471.72,69.40 L472.55,68.26 L473.38,67.19 L474.20,66.20 L475.15,65.16 L476.10,64.20 L477.05,63.29 L478.00,62.40 L478.95,61.50 L479.90,60.62 L480.85,59.80 L481.80,59.10 L482.68,58.55 L483.57,58.05 L484.45,57.59 L485.33,57.17 L486.22,56.77 L487.10,56.40 L488.10,55.98 L489.10,55.58 L490.10,55.23 L491.10,55.00 L492.00,54.86 L492.90,54.74 L493.80,54.63 L494.70,54.54 L495.60,54.45 L496.50,54.38 L497.40,54.31 L498.30,54.25 L499.20,54.20 L500.17,54.15 L501.14,54.10 L502.11,54.05 L503.08,54.02 L504.05,53.98 L505.02,53.94 L505.99,53.91 L506.96,53.87 L507.93,53.84 L508.90,53.80" fill="none" stroke="#f9ab1e" stroke-width="1.05" stroke-linejoin="round"/>
<path d="M375.50,155.60 L376.47,155.41 L377.44,155.23 L378.41,155.04 L379.38,154.86 L380.35,154.68 L381.32,154.49 L382.29,154.30 L383.26,154.11 L384.23,153.91 L385.20,153.70 L386.13,153.50 L387.05,153.29 L387.98,153.09 L388.91,152.88 L389.84,152.66 L390.76,152.44 L391.69,152.21 L392.62,151.98 L393.55,151.73 L394.47,151.47 L395.40,151.20 L396.31,150.92 L397.22,150.62 L398.13,150.31 L399.04,149.98 L399.96,149.64 L400.87,149.28 L401.78,148.90 L402.69,148.51 L403.60,148.10 L404.50,147.67 L405.40,147.21 L406.30,146.72 L407.20,146.21 L408.10,145.68 L409.00,145.13 L409.90,144.57 L410.80,144.00 L411.69,143.43 L412.57,142.84 L413.46,142.23 L414.35,141.60 L415.24,140.96 L416.12,140.29 L417.01,139.61 L417.90,138.90 L418.77,138.18 L419.64,137.44 L420.51,136.66 L421.39,135.87 L422.26,135.04 L423.13,134.18 L424.00,133.30 L424.97,132.27 L425.93,131.17 L426.90,130.00 L427.75,128.89 L428.60,127.71 L429.45,126.49 L430.30,125.30 L431.18,124.08 L432.05,122.86 L432.93,121.66 L433.80,120.50 L434.65,119.43 L435.50,118.40 L436.35,117.39 L437.20,116.40 L438.00,115.49 L438.80,114.60 L439.60,113.70 L440.38,112.82 L441.15,111.93 L441.93,111.01 L442.70,110.00 L443.62,108.61 L444.55,107.05 L445.47,105.47 L446.40,104.00 L447.27,102.75 L448.15,101.56 L449.02,100.39 L449.90,99.20 L450.75,98.01 L451.60,96.81 L452.45,95.60 L453.30,94.40 L454.15,93.22 L455.00,92.04 L455.85,90.85 L456.70,89.60 L457.55,88.23 L458.40,86.78 L459.25,85.36 L460.10,84.10 L461.00,83.03 L461.90,82.07 L462.80,81.00 L463.57,79.89 L464.35,78.67 L465.12,77.38 L465.90,76.10 L466.72,74.70 L467.55,73.24 L468.38,71.84 L469.20,70.60 L470.18,69.34 L471.15,68.19 L472.12,67.15 L473.10,66.20 L474.05,65.36 L475.00,64.60 L475.95,63.89 L476.90,63.20 L477.85,62.54 L478.80,61.90 L479.75,61.29 L480.70,60.70 L481.52,60.19 L482.35,59.69 L483.18,59.22 L484.00,58.80 L484.77,58.46 L485.55,58.16 L486.33,57.87 L487.10,57.60 L488.10,57.24 L489.10,56.89 L490.10,56.57 L491.10,56.30 L492.00,56.09 L492.90,55.88 L493.80,55.69 L494.70,55.51 L495.60,55.34 L496.50,55.18 L497.40,55.04 L498.30,54.91 L499.20,54.80 L500.17,54.69 L501.14,54.60 L502.11,54.51 L503.08,54.43 L504.05,54.36 L505.02,54.29 L505.99,54.22 L506.96,54.15 L507.93,54.08 L508.90,54.00" fill="none" stroke="#2a2a2a" stroke-width="1.05" stroke-linejoin="round"/>
<path d="M375.50,155.60 L376.47,155.34 L377.44,155.11 L378.41,154.88 L379.38,154.66 L380.35,154.44 L381.32,154.20 L382.29,153.93 L383.26,153.63 L384.23,153.29 L385.20,152.90 L385.98,152.44 L386.75,151.83 L387.52,151.20 L388.30,150.70 L389.19,150.28 L390.07,149.92 L390.96,149.60 L391.85,149.31 L392.74,149.02 L393.62,148.74 L394.51,148.43 L395.40,148.10 L396.31,147.74 L397.22,147.39 L398.13,147.04 L399.04,146.68 L399.96,146.30 L400.87,145.90 L401.78,145.47 L402.69,145.01 L403.60,144.50 L404.47,143.93 L405.34,143.26 L406.21,142.52 L407.09,141.74 L407.96,140.94 L408.83,140.15 L409.70,139.40 L410.59,138.66 L411.47,137.92 L412.36,137.18 L413.24,136.45 L414.13,135.72 L415.01,135.00 L415.90,134.30 L416.83,133.59 L417.77,132.92 L418.70,132.26 L419.63,131.59 L420.57,130.88 L421.50,130.10 L422.50,129.15 L423.50,128.11 L424.50,127.04 L425.50,126.00 L426.38,125.15 L427.25,124.33 L428.12,123.50 L429.00,122.60 L429.85,121.65 L430.70,120.65 L431.55,119.59 L432.40,118.50 L433.30,117.27 L434.20,115.97 L435.10,114.70 L436.03,113.48 L436.97,112.29 L437.90,111.00 L438.75,109.60 L439.60,108.20 L440.50,107.00 L441.40,105.90 L442.30,104.70 L443.12,103.40 L443.94,101.96 L444.76,100.47 L445.58,99.05 L446.40,97.80 L447.22,96.74 L448.04,95.79 L448.86,94.89 L449.68,93.98 L450.50,93.00 L451.38,91.87 L452.25,90.69 L453.12,89.47 L454.00,88.20 L454.90,86.82 L455.80,85.38 L456.70,83.92 L457.60,82.50 L458.60,81.00 L459.60,79.53 L460.60,78.07 L461.60,76.60 L462.43,75.36 L463.25,74.11 L464.07,72.88 L464.90,71.70 L465.85,70.38 L466.80,69.09 L467.75,67.87 L468.70,66.80 L469.65,65.86 L470.60,65.01 L471.55,64.22 L472.50,63.50 L473.38,62.87 L474.26,62.28 L475.14,61.73 L476.02,61.20 L476.90,60.70 L477.85,60.18 L478.80,59.70 L479.75,59.23 L480.70,58.80 L481.61,58.40 L482.53,58.02 L483.44,57.66 L484.36,57.30 L485.27,56.96 L486.19,56.63 L487.10,56.30 L488.10,55.93 L489.10,55.57 L490.10,55.24 L491.10,55.00 L492.00,54.84 L492.90,54.69 L493.80,54.55 L494.70,54.43 L495.60,54.32 L496.50,54.22 L497.40,54.14 L498.30,54.06 L499.20,54.00 L500.17,53.94 L501.14,53.89 L502.11,53.85 L503.08,53.81 L504.05,53.77 L505.02,53.74 L505.99,53.71 L506.96,53.67 L507.93,53.64 L508.90,53.60" fill="none" stroke="#2cc5c8" stroke-width="1.05" stroke-linejoin="round"/>
<path d="M375.50,154.80 L381.10,153.20 L388.30,151.70 L395.40,149.60 L401.60,146.60 L405.70,143.50 L409.70,139.90 L412.80,135.30 L414.30,131.20 L415.90,128.60 L418.70,127.90 L422.80,125.70 L425.50,124.30 L429.00,121.90 L431.00,119.90 L432.40,116.80 L434.50,113.70 L436.50,111.00 L437.90,107.50 L439.60,105.80 L441.60,104.00 L445.10,97.80 L447.80,93.70 L449.90,89.60 L452.60,86.20 L455.30,83.40 L456.30,81.00 L459.40,78.30 L464.30,73.90 L467.60,68.90 L471.40,65.70 L474.70,63.50 L478.00,61.80 L481.30,60.20 L483.90,60.00 L485.50,57.60 L487.10,55.20 L488.70,54.00 L490.30,53.60 L508.90,53.60" fill="none" stroke="#ee1d25" stroke-width="1.05" stroke-linejoin="round"/>
<rect x="375.5" y="53.6" width="133.40" height="102.80" fill="none" stroke="#231f20" stroke-width="1"/>
<text transform="translate(506.80,132.65) scale(1,1.05)" fill="#ee1d25" stroke="#ee1d25" stroke-width="0.18" font-size="10" text-anchor="end"><tspan font-style="italic">P</tspan> = 0.05</text>
<text transform="translate(506.80,144.55) scale(1,1.05)" fill="#20b4ee" stroke="#20b4ee" stroke-width="0.18" font-size="10" text-anchor="end"><tspan font-style="italic">P</tspan> = 1.37 X 10<tspan font-size="6.5" dy="-3.7">-3</tspan></text>
<text transform="translate(506.80,156.45) scale(1,1.05)" fill="#fcb814" stroke="#fcb814" stroke-width="0.18" font-size="10" text-anchor="end"><tspan font-style="italic">P</tspan> = 8.05 X 10<tspan font-size="6.5" dy="-3.7">-8</tspan></text>
<text transform="translate(379.00,195.05) scale(1,1.05)" fill="#151515" stroke="#151515" stroke-width="0.18" font-size="10" text-anchor="start" font-weight="normal" font-style="normal" >log<tspan font-size="6.4" dy="2.2">2</tspan></text>
<path d="M404.59999999999997,175.5 H398.9 V207.0 H404.59999999999997" fill="none" stroke="#151515" stroke-width="1"/>
<path d="M487.90000000000003,175.5 H493.6 V207.0 H487.90000000000003" fill="none" stroke="#151515" stroke-width="1"/>
<line x1="406.3" y1="191.3" x2="486.9" y2="191.3" stroke="#6d6e71" stroke-width="1"/>
<text transform="translate(446.60,187.85) scale(1,1.05)" fill="#151515" stroke="#151515" stroke-width="0.18" font-size="10" text-anchor="middle" font-weight="normal" font-style="normal" >si<tspan font-style="italic">LC3B</tspan> + Rapa</text>
<text transform="translate(446.60,202.75) scale(1,1.05)" fill="#151515" stroke="#151515" stroke-width="0.18" font-size="10" text-anchor="middle" font-weight="normal" font-style="normal" >siControl + Rapa</text>
<text transform="translate(5.30,246.30) scale(1,1.0)" fill="#151515" stroke="#151515" stroke-width="0.35" font-size="17.6" text-anchor="start" font-weight="bold" font-style="normal" >d</text>
<line x1="55.00" y1="260.00" x2="61.00" y2="260.00" stroke="#151515" stroke-width="1.05"/>
<text transform="translate(64.40,263.75) scale(1,1.05)" fill="#151515" stroke="#151515" stroke-width="0.18" font-size="10" text-anchor="start" font-weight="normal" font-style="normal" >Non-targets (9662)</text>
<line x1="55.00" y1="273.60" x2="61.00" y2="273.60" stroke="#20b4ee" stroke-width="1.05"/>
<text transform="translate(64.40,277.35) scale(1,1.05)" fill="#20b4ee" stroke="#20b4ee" stroke-width="0.18" font-size="10" text-anchor="start" font-weight="normal" font-style="normal" >LC3B CLIP (1345)</text>
<line x1="29.7" y1="384.50" x2="35.5" y2="384.50" stroke="#231f20" stroke-width="1"/>
<text transform="translate(27.30,389.15) scale(1,1.05)" fill="#151515" stroke="#151515" stroke-width="0.18" font-size="10" text-anchor="end" font-weight="normal" font-style="normal" >0.0</text>
<line x1="29.7" y1="363.92" x2="35.5" y2="363.92" stroke="#231f20" stroke-width="1"/>
<text transform="translate(27.30,368.57) scale(1,1.05)" fill="#151515" stroke="#151515" stroke-width="0.18" font-size="10" text-anchor="end" font-weight="normal" font-style="normal" >0.2</text>
<line x1="29.7" y1="343.34" x2="35.5" y2="343.34" stroke="#231f20" stroke-width="1"/>
<text transform="translate(27.30,347.99) scale(1,1.05)" fill="#151515" stroke="#151515" stroke-width="0.18" font-size="10" text-anchor="end" font-weight="normal" font-style="normal" >0.4</text>
<line x1="29.7" y1="322.76" x2="35.5" y2="322.76" stroke="#231f20" stroke-width="1"/>
<text transform="translate(27.30,327.41) scale(1,1.05)" fill="#151515" stroke="#151515" stroke-width="0.18" font-size="10" text-anchor="end" font-weight="normal" font-style="normal" >0.6</text>
<line x1="29.7" y1="302.18" x2="35.5" y2="302.18" stroke="#231f20" stroke-width="1"/>
<text transform="translate(27.30,306.83) scale(1,1.05)" fill="#151515" stroke="#151515" stroke-width="0.18" font-size="10" text-anchor="end" font-weight="normal" font-style="normal" >0.8</text>
<line x1="29.7" y1="281.60" x2="35.5" y2="281.60" stroke="#231f20" stroke-width="1"/>
<text transform="translate(27.30,286.25) scale(1,1.05)" fill="#151515" stroke="#151515" stroke-width="0.18" font-size="10" text-anchor="end" font-weight="normal" font-style="normal" >1.0</text>
<line x1="35.5" y1="384.5" x2="35.5" y2="390.3" stroke="#231f20" stroke-width="1"/>
<text transform="translate(35.50,401.15) scale(1,1.05)" fill="#151515" stroke="#151515" stroke-width="0.18" font-size="10" text-anchor="middle" font-weight="normal" font-style="normal" >-3.0</text>
<line x1="101.95" y1="384.5" x2="101.95" y2="390.3" stroke="#231f20" stroke-width="1"/>
<text transform="translate(102.00,401.15) scale(1,1.05)" fill="#151515" stroke="#151515" stroke-width="0.18" font-size="10" text-anchor="middle" font-weight="normal" font-style="normal" >0.0</text>
<line x1="168.4" y1="384.5" x2="168.4" y2="390.3" stroke="#231f20" stroke-width="1"/>
<text transform="translate(168.40,401.15) scale(1,1.05)" fill="#151515" stroke="#151515" stroke-width="0.18" font-size="10" text-anchor="middle" font-weight="normal" font-style="normal" >3.0</text>
<text transform="translate(7.85,335.8) rotate(-90) scale(1,1.05)" fill="#151515" stroke="#151515" stroke-width="0.18" font-size="10" text-anchor="middle">Cumulative fraction</text>
<text transform="translate(42.70,296.75) scale(1,1.05)" fill="#151515" stroke="#151515" stroke-width="0.18" font-size="10" text-anchor="start" font-weight="normal" font-style="normal" >&#916; half-life</text>
<path d="M35.50,382.70 L36.47,382.58 L37.44,382.46 L38.41,382.34 L39.38,382.23 L40.35,382.11 L41.32,381.99 L42.29,381.87 L43.26,381.75 L44.23,381.63 L45.20,381.50 L46.13,381.38 L47.05,381.26 L47.98,381.13 L48.91,381.01 L49.84,380.89 L50.76,380.76 L51.69,380.63 L52.62,380.50 L53.55,380.37 L54.47,380.24 L55.40,380.10 L56.31,379.97 L57.22,379.83 L58.13,379.70 L59.04,379.56 L59.96,379.42 L60.87,379.28 L61.78,379.13 L62.69,378.97 L63.60,378.80 L64.50,378.62 L65.40,378.44 L66.30,378.24 L67.20,378.04 L68.10,377.82 L69.00,377.59 L69.90,377.35 L70.80,377.10 L71.69,376.84 L72.58,376.56 L73.46,376.26 L74.35,375.95 L75.24,375.62 L76.12,375.27 L77.01,374.89 L77.90,374.50 L78.75,374.10 L79.60,373.66 L80.45,373.18 L81.30,372.67 L82.15,372.11 L83.00,371.50 L83.85,370.82 L84.70,370.05 L85.55,369.20 L86.40,368.29 L87.25,367.32 L88.10,366.30 L88.94,365.23 L89.78,364.07 L90.62,362.81 L91.46,361.46 L92.30,360.00 L93.23,358.18 L94.17,356.13 L95.10,353.90 L95.87,351.86 L96.63,349.64 L97.40,347.40 L98.13,345.27 L98.87,343.12 L99.60,341.00 L100.37,338.89 L101.13,336.81 L101.90,334.60 L102.77,331.80 L103.63,328.80 L104.50,325.80 L105.50,322.41 L106.50,319.00 L107.15,316.73 L107.80,314.50 L108.60,311.93 L109.40,309.50 L110.17,307.23 L110.93,305.05 L111.70,303.10 L112.63,301.07 L113.57,299.26 L114.50,297.60 L115.40,296.08 L116.30,294.67 L117.20,293.50 L118.12,292.53 L119.05,291.69 L119.98,290.95 L120.90,290.30 L121.80,289.74 L122.70,289.24 L123.60,288.80 L124.50,288.40 L125.38,288.07 L126.25,287.78 L127.12,287.50 L128.00,287.20 L128.78,286.89 L129.55,286.56 L130.32,286.25 L131.10,286.00 L132.10,285.76 L133.10,285.55 L134.10,285.36 L135.10,285.19 L136.10,285.03 L137.10,284.89 L138.10,284.74 L139.10,284.60 L140.10,284.46 L141.10,284.32 L142.10,284.19 L143.10,284.06 L144.10,283.94 L145.10,283.83 L146.10,283.71 L147.10,283.60 L148.00,283.50 L148.90,283.41 L149.80,283.31 L150.70,283.22 L151.60,283.13 L152.50,283.04 L153.40,282.96 L154.30,282.88 L155.20,282.80 L156.20,282.72 L157.20,282.63 L158.20,282.56 L159.20,282.48 L160.20,282.41 L161.20,282.33 L162.20,282.27 L163.20,282.20 L164.07,282.15 L164.93,282.09 L165.80,282.05 L166.67,282.00 L167.53,281.95 L168.40,281.90" fill="none" stroke="#2a2a2a" stroke-width="1.05" stroke-linejoin="round"/>
<path d="M35.50,382.20 L36.47,382.05 L37.44,381.90 L38.41,381.74 L39.38,381.59 L40.35,381.43 L41.32,381.28 L42.29,381.13 L43.26,380.98 L44.23,380.84 L45.20,380.70 L46.13,380.57 L47.05,380.46 L47.98,380.35 L48.91,380.24 L49.84,380.13 L50.76,380.02 L51.69,379.91 L52.62,379.80 L53.55,379.68 L54.47,379.54 L55.40,379.40 L56.34,379.24 L57.27,379.07 L58.21,378.89 L59.15,378.69 L60.08,378.49 L61.02,378.27 L61.95,378.05 L62.89,377.82 L63.83,377.59 L64.76,377.35 L65.70,377.10 L66.60,376.86 L67.50,376.62 L68.40,376.36 L69.30,376.10 L70.20,375.82 L71.10,375.52 L72.00,375.21 L72.90,374.87 L73.80,374.50 L74.65,374.12 L75.50,373.71 L76.35,373.25 L77.20,372.73 L78.05,372.15 L78.90,371.50 L79.72,370.70 L80.54,369.70 L81.36,368.57 L82.18,367.41 L83.00,366.30 L83.88,365.19 L84.76,364.09 L85.64,362.98 L86.52,361.79 L87.40,360.50 L88.18,359.19 L88.95,357.73 L89.72,356.24 L90.50,354.80 L91.40,353.30 L92.30,351.85 L93.20,350.20 L94.15,348.06 L95.10,345.60 L96.00,342.93 L96.90,340.10 L97.80,337.38 L98.70,334.60 L99.65,331.39 L100.60,328.20 L101.30,326.08 L102.00,324.04 L102.70,322.00 L103.55,319.51 L104.40,316.90 L105.30,313.62 L106.20,310.40 L106.97,308.14 L107.73,306.07 L108.50,304.00 L109.27,301.79 L110.03,299.57 L110.80,297.60 L111.73,295.59 L112.67,293.79 L113.60,292.10 L114.50,290.45 L115.40,288.88 L116.30,287.60 L117.25,286.60 L118.20,285.80 L119.10,285.11 L120.00,284.60 L120.90,284.29 L121.80,284.04 L122.70,283.84 L123.60,283.66 L124.50,283.50 L125.38,283.35 L126.25,283.21 L127.12,283.09 L128.00,283.00 L128.89,282.93 L129.78,282.87 L130.66,282.81 L131.55,282.76 L132.44,282.72 L133.32,282.68 L134.21,282.64 L135.10,282.60 L136.10,282.56 L137.10,282.52 L138.10,282.48 L139.10,282.44 L140.10,282.40 L141.10,282.37 L142.10,282.33 L143.10,282.30 L144.10,282.27 L145.10,282.25 L146.10,282.22 L147.10,282.20 L148.07,282.18 L149.04,282.16 L150.00,282.15 L150.97,282.13 L151.94,282.11 L152.91,282.10 L153.88,282.08 L154.85,282.07 L155.81,282.06 L156.78,282.04 L157.75,282.03 L158.72,282.02 L159.69,282.01 L160.65,282.00 L161.62,281.99 L162.59,281.97 L163.56,281.96 L164.53,281.95 L165.50,281.94 L166.46,281.93 L167.43,281.91 L168.40,281.90" fill="none" stroke="#2cc5c8" stroke-width="1.05" stroke-linejoin="round"/>
<rect x="35.5" y="281.6" width="132.90" height="102.90" fill="none" stroke="#231f20" stroke-width="1"/>
<text transform="translate(166.00,382.95) scale(1,1.05)" fill="#20b4ee" stroke="#20b4ee" stroke-width="0.18" font-size="10" text-anchor="end"><tspan font-style="italic">P</tspan> = 9.59 X 10<tspan font-size="6.5" dy="-3.7">-14</tspan></text>
<text transform="translate(27.80,425.75) scale(1,1.05)" fill="#151515" stroke="#151515" stroke-width="0.18" font-size="10" text-anchor="start" font-weight="normal" font-style="normal" >log<tspan font-size="6.4" dy="2.2">2</tspan></text>
<path d="M52.6,406.2 H46.9 V437.4 H52.6" fill="none" stroke="#151515" stroke-width="1"/>
<path d="M151.20000000000002,406.2 H156.9 V437.4 H151.20000000000002" fill="none" stroke="#151515" stroke-width="1"/>
<line x1="55.1" y1="421.9" x2="151.4" y2="421.9" stroke="#6d6e71" stroke-width="1"/>
<text transform="translate(103.20,418.85) scale(1,1.05)" fill="#151515" stroke="#151515" stroke-width="0.18" font-size="10" text-anchor="middle" font-weight="normal" font-style="normal" >siControl + Rapa &amp; CQ</text>
<text transform="translate(103.20,433.05) scale(1,1.05)" fill="#151515" stroke="#151515" stroke-width="0.18" font-size="10" text-anchor="middle" font-weight="normal" font-style="normal" >siControl + DMSO</text>
<text transform="translate(180.50,246.30) scale(1,1.0)" fill="#151515" stroke="#151515" stroke-width="0.35" font-size="17.6" text-anchor="start" font-weight="bold" font-style="normal" >e</text>
<line x1="225.60" y1="260.00" x2="231.60" y2="260.00" stroke="#151515" stroke-width="1.05"/>
<text transform="translate(235.00,263.75) scale(1,1.05)" fill="#151515" stroke="#151515" stroke-width="0.18" font-size="10" text-anchor="start" font-weight="normal" font-style="normal" >Non-targets (9862)</text>
<line x1="225.60" y1="273.60" x2="231.60" y2="273.60" stroke="#20b4ee" stroke-width="1.05"/>
<text transform="translate(235.00,277.35) scale(1,1.05)" fill="#20b4ee" stroke="#20b4ee" stroke-width="0.18" font-size="10" text-anchor="start" font-weight="normal" font-style="normal" >LC3B CLIP (1345)</text>
<line x1="199.7" y1="384.80" x2="205.5" y2="384.80" stroke="#231f20" stroke-width="1"/>
<text transform="translate(197.30,389.45) scale(1,1.05)" fill="#151515" stroke="#151515" stroke-width="0.18" font-size="10" text-anchor="end" font-weight="normal" font-style="normal" >0.0</text>
<line x1="199.7" y1="364.28" x2="205.5" y2="364.28" stroke="#231f20" stroke-width="1"/>
<text transform="translate(197.30,368.93) scale(1,1.05)" fill="#151515" stroke="#151515" stroke-width="0.18" font-size="10" text-anchor="end" font-weight="normal" font-style="normal" >0.2</text>
<line x1="199.7" y1="343.76" x2="205.5" y2="343.76" stroke="#231f20" stroke-width="1"/>
<text transform="translate(197.30,348.41) scale(1,1.05)" fill="#151515" stroke="#151515" stroke-width="0.18" font-size="10" text-anchor="end" font-weight="normal" font-style="normal" >0.4</text>
<line x1="199.7" y1="323.24" x2="205.5" y2="323.24" stroke="#231f20" stroke-width="1"/>
<text transform="translate(197.30,327.89) scale(1,1.05)" fill="#151515" stroke="#151515" stroke-width="0.18" font-size="10" text-anchor="end" font-weight="normal" font-style="normal" >0.6</text>
<line x1="199.7" y1="302.72" x2="205.5" y2="302.72" stroke="#231f20" stroke-width="1"/>
<text transform="translate(197.30,307.37) scale(1,1.05)" fill="#151515" stroke="#151515" stroke-width="0.18" font-size="10" text-anchor="end" font-weight="normal" font-style="normal" >0.8</text>
<line x1="199.7" y1="282.20" x2="205.5" y2="282.20" stroke="#231f20" stroke-width="1"/>
<text transform="translate(197.30,286.85) scale(1,1.05)" fill="#151515" stroke="#151515" stroke-width="0.18" font-size="10" text-anchor="end" font-weight="normal" font-style="normal" >1.0</text>
<line x1="205.5" y1="384.8" x2="205.5" y2="390.6" stroke="#231f20" stroke-width="1"/>
<text transform="translate(205.50,401.45) scale(1,1.05)" fill="#151515" stroke="#151515" stroke-width="0.18" font-size="10" text-anchor="middle" font-weight="normal" font-style="normal" >-3.0</text>
<line x1="272.0" y1="384.8" x2="272.0" y2="390.6" stroke="#231f20" stroke-width="1"/>
<text transform="translate(272.00,401.45) scale(1,1.05)" fill="#151515" stroke="#151515" stroke-width="0.18" font-size="10" text-anchor="middle" font-weight="normal" font-style="normal" >0.0</text>
<line x1="338.5" y1="384.8" x2="338.5" y2="390.6" stroke="#231f20" stroke-width="1"/>
<text transform="translate(338.50,401.45) scale(1,1.05)" fill="#151515" stroke="#151515" stroke-width="0.18" font-size="10" text-anchor="middle" font-weight="normal" font-style="normal" >3.0</text>
<text transform="translate(212.70,297.35) scale(1,1.05)" fill="#151515" stroke="#151515" stroke-width="0.18" font-size="10" text-anchor="start" font-weight="normal" font-style="normal" >&#916; half-life</text>
<path d="M205.50,384.10 L206.47,384.00 L207.44,383.90 L208.41,383.81 L209.38,383.71 L210.35,383.61 L211.32,383.52 L212.29,383.42 L213.26,383.31 L214.23,383.21 L215.20,383.10 L216.13,382.99 L217.05,382.88 L217.98,382.77 L218.91,382.65 L219.84,382.54 L220.76,382.42 L221.69,382.30 L222.62,382.17 L223.55,382.05 L224.47,381.93 L225.40,381.80 L226.34,381.67 L227.27,381.54 L228.21,381.41 L229.15,381.28 L230.08,381.14 L231.02,381.00 L231.95,380.87 L232.89,380.73 L233.83,380.58 L234.76,380.44 L235.70,380.30 L236.60,380.16 L237.50,380.03 L238.40,379.90 L239.30,379.77 L240.20,379.63 L241.10,379.49 L242.00,379.34 L242.90,379.18 L243.80,379.00 L244.69,378.81 L245.57,378.61 L246.46,378.38 L247.34,378.14 L248.23,377.88 L249.11,377.60 L250.00,377.30 L251.00,376.91 L252.00,376.46 L253.00,375.95 L254.00,375.40 L254.82,374.91 L255.64,374.38 L256.46,373.79 L257.28,373.14 L258.10,372.40 L258.88,371.57 L259.65,370.60 L260.43,369.49 L261.20,368.30 L262.07,366.85 L262.93,365.18 L263.80,363.20 L264.60,360.76 L265.40,357.83 L266.20,355.00 L266.97,352.62 L267.73,350.32 L268.50,347.90 L269.27,345.29 L270.03,342.56 L270.80,339.70 L271.70,336.08 L272.60,332.40 L273.55,328.69 L274.50,325.10 L275.40,321.89 L276.30,318.70 L277.20,315.20 L278.10,312.00 L278.93,309.67 L279.75,307.59 L280.57,305.74 L281.40,304.10 L282.28,302.53 L283.16,301.11 L284.04,299.80 L284.92,298.60 L285.80,297.50 L286.72,296.41 L287.63,295.36 L288.55,294.38 L289.47,293.48 L290.38,292.68 L291.30,292.00 L292.23,291.41 L293.16,290.86 L294.09,290.37 L295.01,289.91 L295.94,289.50 L296.87,289.13 L297.80,288.80 L298.74,288.50 L299.69,288.23 L300.63,287.98 L301.57,287.75 L302.51,287.53 L303.46,287.32 L304.40,287.10 L305.34,286.88 L306.29,286.66 L307.23,286.45 L308.17,286.24 L309.11,286.04 L310.06,285.86 L311.00,285.70 L311.97,285.55 L312.93,285.41 L313.90,285.28 L314.87,285.15 L315.83,285.03 L316.80,284.92 L317.77,284.81 L318.73,284.70 L319.70,284.60 L320.68,284.50 L321.66,284.40 L322.63,284.31 L323.61,284.22 L324.59,284.13 L325.57,284.05 L326.54,283.97 L327.52,283.88 L328.50,283.80 L329.50,283.72 L330.50,283.63 L331.50,283.55 L332.50,283.47 L333.50,283.39 L334.50,283.31 L335.50,283.24 L336.50,283.16 L337.50,283.08 L338.50,283.00" fill="none" stroke="#2a2a2a" stroke-width="1.05" stroke-linejoin="round"/>
<path d="M205.50,384.60 L206.50,384.58 L207.49,384.55 L208.49,384.53 L209.48,384.50 L210.47,384.48 L211.47,384.45 L212.47,384.43 L213.46,384.41 L214.46,384.38 L215.45,384.36 L216.44,384.33 L217.44,384.31 L218.44,384.28 L219.43,384.26 L220.43,384.23 L221.42,384.21 L222.41,384.18 L223.41,384.16 L224.41,384.13 L225.40,384.10 L226.36,384.07 L227.33,384.05 L228.29,384.02 L229.25,384.00 L230.21,383.97 L231.18,383.95 L232.14,383.92 L233.10,383.89 L234.06,383.87 L235.03,383.84 L235.99,383.80 L236.95,383.77 L237.91,383.73 L238.88,383.69 L239.84,383.65 L240.80,383.60 L241.70,383.55 L242.60,383.49 L243.50,383.42 L244.40,383.34 L245.30,383.26 L246.20,383.16 L247.10,383.05 L248.00,382.93 L248.90,382.80 L249.75,382.65 L250.60,382.46 L251.45,382.23 L252.30,381.98 L253.15,381.70 L254.00,381.40 L254.87,381.07 L255.73,380.69 L256.60,380.26 L257.47,379.79 L258.33,379.27 L259.20,378.70 L260.20,377.96 L261.20,377.09 L262.20,376.08 L263.20,374.90 L263.98,373.79 L264.75,372.46 L265.52,370.95 L266.30,369.30 L267.17,367.26 L268.03,364.91 L268.90,362.20 L269.70,358.96 L270.50,355.50 L271.20,352.84 L271.90,350.32 L272.60,347.90 L273.37,345.39 L274.13,343.00 L274.90,340.60 L275.67,338.17 L276.43,335.73 L277.20,333.30 L277.97,330.86 L278.73,328.41 L279.50,326.00 L280.40,323.22 L281.30,320.50 L282.25,317.62 L283.20,315.00 L283.95,313.32 L284.70,311.80 L285.58,310.01 L286.46,308.23 L287.34,306.51 L288.22,304.92 L289.10,303.50 L289.98,302.24 L290.86,301.07 L291.74,300.00 L292.62,299.01 L293.50,298.10 L294.40,297.24 L295.30,296.45 L296.20,295.70 L297.10,295.00 L298.00,294.33 L298.90,293.70 L299.82,293.08 L300.73,292.48 L301.65,291.91 L302.57,291.37 L303.48,290.87 L304.40,290.40 L305.34,289.95 L306.29,289.52 L307.23,289.10 L308.17,288.72 L309.11,288.35 L310.06,288.01 L311.00,287.70 L311.94,287.41 L312.89,287.14 L313.83,286.88 L314.77,286.64 L315.71,286.41 L316.66,286.20 L317.60,286.00 L318.57,285.81 L319.53,285.63 L320.50,285.46 L321.47,285.30 L322.43,285.15 L323.40,285.00 L324.37,284.86 L325.33,284.73 L326.30,284.60 L327.24,284.48 L328.18,284.37 L329.12,284.26 L330.05,284.16 L330.99,284.06 L331.93,283.96 L332.87,283.87 L333.81,283.77 L334.75,283.68 L335.68,283.59 L336.62,283.49 L337.56,283.40 L338.50,283.30" fill="none" stroke="#2cc5c8" stroke-width="1.05" stroke-linejoin="round"/>
<rect x="205.5" y="282.2" width="133.00" height="102.60" fill="none" stroke="#231f20" stroke-width="1"/>
<text transform="translate(336.50,383.75) scale(1,1.05)" fill="#20b4ee" stroke="#20b4ee" stroke-width="0.18" font-size="10" text-anchor="end"><tspan font-style="italic">P</tspan> = 1.57 X 10<tspan font-size="6.5" dy="-3.7">-33</tspan></text>
<text transform="translate(198.70,425.75) scale(1,1.05)" fill="#151515" stroke="#151515" stroke-width="0.18" font-size="10" text-anchor="start" font-weight="normal" font-style="normal" >log<tspan font-size="6.4" dy="2.2">2</tspan></text>
<path d="M223.89999999999998,406.2 H218.2 V437.4 H223.89999999999998" fill="none" stroke="#151515" stroke-width="1"/>
<path d="M322.7,406.2 H328.4 V437.4 H322.7" fill="none" stroke="#151515" stroke-width="1"/>
<line x1="225.9" y1="421.9" x2="322.8" y2="421.9" stroke="#6d6e71" stroke-width="1"/>
<text transform="translate(274.40,418.85) scale(1,1.05)" fill="#151515" stroke="#151515" stroke-width="0.18" font-size="10" text-anchor="middle" font-weight="normal" font-style="normal" >si<tspan font-style="italic">LC3B</tspan> + Rapa &amp; CQ</text>
<text transform="translate(274.40,433.05) scale(1,1.05)" fill="#151515" stroke="#151515" stroke-width="0.18" font-size="10" text-anchor="middle" font-weight="normal" font-style="normal" >siControl + Rapa &amp; CQ</text>
<text transform="translate(355.50,246.30) scale(1,1.0)" fill="#151515" stroke="#151515" stroke-width="0.35" font-size="17.6" text-anchor="start" font-weight="bold" font-style="normal" >f</text>
<line x1="398.90" y1="231.80" x2="404.90" y2="231.80" stroke="#151515" stroke-width="1.05"/>
<text transform="translate(408.30,235.55) scale(1,1.05)" fill="#151515" stroke="#151515" stroke-width="0.18" font-size="10" text-anchor="start" font-weight="normal" font-style="normal" >Non-targets (9662)</text>
<line x1="398.90" y1="245.40" x2="404.90" y2="245.40" stroke="#ee1d25" stroke-width="1.05"/>
<text transform="translate(408.30,249.15) scale(1,1.05)" fill="#ee1d25" stroke="#ee1d25" stroke-width="0.18" font-size="10" text-anchor="start" font-weight="normal" font-style="normal" >5′UTR (147)</text>
<line x1="398.90" y1="259.00" x2="404.90" y2="259.00" stroke="#20b4ee" stroke-width="1.05"/>
<text transform="translate(408.30,262.75) scale(1,1.05)" fill="#20b4ee" stroke="#20b4ee" stroke-width="0.18" font-size="10" text-anchor="start" font-weight="normal" font-style="normal" >CDS (624)</text>
<line x1="398.90" y1="272.60" x2="404.90" y2="272.60" stroke="#fcb814" stroke-width="1.05"/>
<text transform="translate(408.30,276.35) scale(1,1.05)" fill="#fcb814" stroke="#fcb814" stroke-width="0.18" font-size="10" text-anchor="start" font-weight="normal" font-style="normal" >3′UTR (691)</text>
<line x1="369.7" y1="384.80" x2="375.5" y2="384.80" stroke="#231f20" stroke-width="1"/>
<text transform="translate(367.30,389.45) scale(1,1.05)" fill="#151515" stroke="#151515" stroke-width="0.18" font-size="10" text-anchor="end" font-weight="normal" font-style="normal" >0.0</text>
<line x1="369.7" y1="364.22" x2="375.5" y2="364.22" stroke="#231f20" stroke-width="1"/>
<text transform="translate(367.30,368.87) scale(1,1.05)" fill="#151515" stroke="#151515" stroke-width="0.18" font-size="10" text-anchor="end" font-weight="normal" font-style="normal" >0.2</text>
<line x1="369.7" y1="343.64" x2="375.5" y2="343.64" stroke="#231f20" stroke-width="1"/>
<text transform="translate(367.30,348.29) scale(1,1.05)" fill="#151515" stroke="#151515" stroke-width="0.18" font-size="10" text-anchor="end" font-weight="normal" font-style="normal" >0.4</text>
<line x1="369.7" y1="323.06" x2="375.5" y2="323.06" stroke="#231f20" stroke-width="1"/>
<text transform="translate(367.30,327.71) scale(1,1.05)" fill="#151515" stroke="#151515" stroke-width="0.18" font-size="10" text-anchor="end" font-weight="normal" font-style="normal" >0.6</text>
<line x1="369.7" y1="302.48" x2="375.5" y2="302.48" stroke="#231f20" stroke-width="1"/>
<text transform="translate(367.30,307.13) scale(1,1.05)" fill="#151515" stroke="#151515" stroke-width="0.18" font-size="10" text-anchor="end" font-weight="normal" font-style="normal" >0.8</text>
<line x1="369.7" y1="281.90" x2="375.5" y2="281.90" stroke="#231f20" stroke-width="1"/>
<text transform="translate(367.30,286.55) scale(1,1.05)" fill="#151515" stroke="#151515" stroke-width="0.18" font-size="10" text-anchor="end" font-weight="normal" font-style="normal" >1.0</text>
<line x1="375.5" y1="384.8" x2="375.5" y2="390.6" stroke="#231f20" stroke-width="1"/>
<text transform="translate(375.50,401.45) scale(1,1.05)" fill="#151515" stroke="#151515" stroke-width="0.18" font-size="10" text-anchor="middle" font-weight="normal" font-style="normal" >-3.0</text>
<line x1="442.05" y1="384.8" x2="442.05" y2="390.6" stroke="#231f20" stroke-width="1"/>
<text transform="translate(442.10,401.45) scale(1,1.05)" fill="#151515" stroke="#151515" stroke-width="0.18" font-size="10" text-anchor="middle" font-weight="normal" font-style="normal" >0.0</text>
<line x1="508.6" y1="384.8" x2="508.6" y2="390.6" stroke="#231f20" stroke-width="1"/>
<text transform="translate(508.60,401.45) scale(1,1.05)" fill="#151515" stroke="#151515" stroke-width="0.18" font-size="10" text-anchor="middle" font-weight="normal" font-style="normal" >3.0</text>
<text transform="translate(382.70,297.05) scale(1,1.05)" fill="#151515" stroke="#151515" stroke-width="0.18" font-size="10" text-anchor="start" font-weight="normal" font-style="normal" >&#916; half-life</text>
<path d="M375.50,382.50 L376.47,382.32 L377.44,382.12 L378.41,381.93 L379.38,381.73 L380.35,381.54 L381.32,381.35 L382.29,381.17 L383.26,381.00 L384.23,380.84 L385.20,380.70 L386.11,380.58 L387.02,380.48 L387.93,380.39 L388.84,380.31 L389.76,380.22 L390.67,380.13 L391.58,380.04 L392.49,379.93 L393.40,379.80 L394.29,379.65 L395.17,379.48 L396.06,379.29 L396.95,379.08 L397.84,378.85 L398.73,378.61 L399.61,378.36 L400.50,378.10 L401.40,377.82 L402.30,377.50 L403.20,377.16 L404.10,376.80 L405.00,376.43 L405.90,376.05 L406.80,375.67 L407.70,375.30 L408.57,374.95 L409.44,374.61 L410.31,374.27 L411.19,373.91 L412.06,373.54 L412.93,373.14 L413.80,372.70 L414.69,372.22 L415.57,371.72 L416.46,371.17 L417.34,370.58 L418.23,369.93 L419.11,369.20 L420.00,368.40 L421.00,367.26 L422.00,365.85 L423.00,364.30 L423.80,362.91 L424.60,361.36 L425.40,359.78 L426.20,358.30 L427.00,357.01 L427.80,355.80 L428.60,354.57 L429.40,353.20 L430.17,351.68 L430.93,350.00 L431.70,348.20 L432.50,346.17 L433.30,344.00 L434.10,341.80 L434.87,339.73 L435.63,337.62 L436.40,335.40 L437.10,333.18 L437.80,330.83 L438.50,328.50 L439.20,326.28 L439.90,324.08 L440.60,321.80 L441.55,318.40 L442.50,315.00 L443.27,312.46 L444.03,310.03 L444.80,307.70 L445.57,305.47 L446.33,303.33 L447.10,301.30 L447.87,299.37 L448.63,297.54 L449.40,295.80 L450.30,293.76 L451.20,291.83 L452.10,290.30 L452.90,289.31 L453.70,288.47 L454.50,287.74 L455.30,287.10 L456.23,286.39 L457.15,285.74 L458.07,285.19 L459.00,284.80 L459.90,284.55 L460.80,284.35 L461.70,284.18 L462.60,284.03 L463.50,283.90 L464.38,283.78 L465.25,283.68 L466.12,283.59 L467.00,283.50 L467.90,283.40 L468.80,283.29 L469.70,283.18 L470.60,283.07 L471.50,282.97 L472.40,282.88 L473.30,282.80 L474.20,282.74 L475.10,282.70 L476.09,282.67 L477.07,282.64 L478.06,282.62 L479.04,282.59 L480.03,282.57 L481.01,282.55 L482.00,282.53 L482.98,282.51 L483.97,282.49 L484.95,282.48 L485.94,282.46 L486.92,282.45 L487.91,282.43 L488.89,282.42 L489.88,282.41 L490.86,282.40 L491.85,282.38 L492.84,282.37 L493.82,282.36 L494.81,282.35 L495.79,282.34 L496.78,282.33 L497.76,282.32 L498.75,282.32 L499.73,282.31 L500.72,282.30 L501.70,282.29 L502.69,282.27 L503.67,282.26 L504.66,282.25 L505.64,282.24 L506.63,282.23 L507.61,282.21 L508.60,282.20" fill="none" stroke="#f9ab1e" stroke-width="1.05" stroke-linejoin="round"/>
<path d="M375.50,383.20 L376.43,383.09 L377.35,382.98 L378.28,382.88 L379.21,382.77 L380.14,382.66 L381.06,382.56 L381.99,382.45 L382.92,382.34 L383.85,382.23 L384.77,382.12 L385.70,382.00 L386.63,381.88 L387.55,381.76 L388.48,381.64 L389.41,381.52 L390.34,381.39 L391.26,381.26 L392.19,381.13 L393.12,381.00 L394.05,380.87 L394.97,380.74 L395.90,380.60 L396.81,380.47 L397.72,380.33 L398.63,380.20 L399.54,380.06 L400.46,379.92 L401.37,379.78 L402.28,379.63 L403.19,379.47 L404.10,379.30 L405.00,379.12 L405.90,378.94 L406.80,378.74 L407.70,378.54 L408.60,378.32 L409.50,378.09 L410.40,377.85 L411.30,377.60 L412.19,377.34 L413.07,377.06 L413.96,376.76 L414.85,376.45 L415.74,376.12 L416.62,375.77 L417.51,375.39 L418.40,375.00 L419.25,374.60 L420.10,374.16 L420.95,373.68 L421.80,373.17 L422.65,372.61 L423.50,372.00 L424.35,371.32 L425.20,370.55 L426.05,369.70 L426.90,368.79 L427.75,367.82 L428.60,366.80 L429.50,365.63 L430.40,364.35 L431.30,362.96 L432.20,361.50 L433.15,359.88 L434.10,358.00 L435.03,355.59 L435.97,352.77 L436.90,350.00 L437.80,347.53 L438.70,345.10 L439.60,342.70 L440.53,340.30 L441.47,337.93 L442.40,335.40 L443.17,333.10 L443.93,330.64 L444.70,328.10 L445.50,325.30 L446.30,322.50 L447.00,320.25 L447.70,318.08 L448.40,315.90 L449.17,313.39 L449.93,310.86 L450.70,308.60 L451.63,306.24 L452.57,304.11 L453.50,302.20 L454.40,300.53 L455.30,299.01 L456.20,297.60 L457.13,296.22 L458.07,294.94 L459.00,293.80 L460.00,292.69 L461.00,291.65 L462.00,290.74 L463.00,290.00 L464.00,289.41 L465.00,288.90 L466.00,288.46 L467.00,288.06 L468.00,287.70 L468.89,287.40 L469.77,287.12 L470.66,286.86 L471.55,286.62 L472.44,286.39 L473.33,286.18 L474.21,285.98 L475.10,285.80 L476.10,285.61 L477.10,285.44 L478.10,285.28 L479.10,285.13 L480.10,284.98 L481.10,284.85 L482.10,284.72 L483.10,284.60 L484.10,284.48 L485.10,284.37 L486.10,284.27 L487.10,284.17 L488.10,284.07 L489.10,283.98 L490.10,283.89 L491.10,283.80 L492.00,283.72 L492.90,283.65 L493.80,283.57 L494.70,283.50 L495.60,283.43 L496.50,283.37 L497.40,283.31 L498.30,283.25 L499.20,283.20 L500.14,283.15 L501.08,283.11 L502.02,283.06 L502.96,283.02 L503.90,282.99 L504.84,282.95 L505.78,282.91 L506.72,282.88 L507.66,282.84 L508.60,282.80" fill="none" stroke="#2a2a2a" stroke-width="1.05" stroke-linejoin="round"/>
<path d="M375.50,382.70 L376.47,382.60 L377.44,382.51 L378.41,382.41 L379.38,382.32 L380.35,382.23 L381.32,382.13 L382.29,382.03 L383.26,381.93 L384.23,381.82 L385.20,381.70 L386.13,381.58 L387.05,381.45 L387.98,381.32 L388.91,381.18 L389.84,381.04 L390.76,380.89 L391.69,380.73 L392.62,380.58 L393.55,380.42 L394.47,380.26 L395.40,380.10 L396.34,379.93 L397.27,379.76 L398.21,379.58 L399.15,379.40 L400.08,379.21 L401.02,379.03 L401.95,378.84 L402.89,378.65 L403.83,378.46 L404.76,378.28 L405.70,378.10 L406.60,377.94 L407.50,377.79 L408.40,377.66 L409.30,377.52 L410.20,377.38 L411.10,377.22 L412.00,377.04 L412.90,376.84 L413.80,376.60 L414.69,376.30 L415.57,375.90 L416.46,375.43 L417.34,374.89 L418.23,374.29 L419.11,373.66 L420.00,373.00 L421.00,372.16 L422.00,371.18 L423.00,370.09 L424.00,368.90 L424.77,367.87 L425.55,366.72 L426.33,365.51 L427.10,364.30 L427.90,363.07 L428.70,361.81 L429.50,360.50 L430.50,358.80 L431.50,357.00 L432.50,355.00 L433.50,352.66 L434.50,350.00 L435.25,347.69 L436.00,345.40 L436.90,343.17 L437.80,341.14 L438.70,339.00 L439.47,336.94 L440.23,334.77 L441.00,332.60 L441.77,330.51 L442.53,328.43 L443.30,326.20 L444.15,323.48 L445.00,320.50 L445.45,318.71 L445.90,316.90 L446.60,314.33 L447.30,311.87 L448.00,309.50 L448.77,306.97 L449.53,304.53 L450.30,302.20 L451.07,299.94 L451.83,297.77 L452.60,295.80 L453.33,294.11 L454.07,292.57 L454.80,291.20 L455.70,289.65 L456.60,288.26 L457.50,287.20 L458.48,286.33 L459.45,285.59 L460.42,285.00 L461.40,284.60 L462.40,284.35 L463.40,284.17 L464.40,284.00 L465.36,283.83 L466.31,283.65 L467.27,283.47 L468.23,283.31 L469.19,283.17 L470.14,283.07 L471.10,283.00 L472.09,282.96 L473.07,282.92 L474.06,282.88 L475.05,282.84 L476.03,282.81 L477.02,282.77 L478.01,282.74 L478.99,282.71 L479.98,282.69 L480.97,282.66 L481.96,282.64 L482.94,282.62 L483.93,282.59 L484.92,282.57 L485.90,282.55 L486.89,282.54 L487.88,282.52 L488.86,282.50 L489.85,282.49 L490.84,282.47 L491.82,282.46 L492.81,282.44 L493.80,282.43 L494.78,282.42 L495.77,282.40 L496.76,282.39 L497.74,282.38 L498.73,282.36 L499.72,282.35 L500.71,282.34 L501.69,282.32 L502.68,282.31 L503.67,282.29 L504.65,282.28 L505.64,282.26 L506.63,282.24 L507.61,282.22 L508.60,282.20" fill="none" stroke="#2cc5c8" stroke-width="1.05" stroke-linejoin="round"/>
<path d="M375.50,383.50 L385.20,383.20 L393.40,382.50 L401.60,380.10 L410.80,378.10 L417.90,377.10 L422.00,374.50 L426.10,371.50 L428.10,369.40 L430.20,364.30 L432.20,361.20 L433.50,355.50 L435.10,350.90 L436.40,345.40 L438.30,344.50 L438.70,340.00 L440.10,339.00 L440.60,334.00 L442.40,333.60 L442.80,327.10 L444.70,326.20 L445.10,320.00 L445.70,319.60 L446.60,313.20 L447.50,308.60 L448.40,305.90 L448.90,301.30 L450.30,299.50 L451.20,294.00 L452.10,291.20 L453.90,288.50 L456.70,286.70 L459.00,286.20 L461.40,285.60 L469.50,285.20 L471.10,283.80 L485.50,283.20 L486.30,282.70 L508.60,282.40" fill="none" stroke="#ee1d25" stroke-width="1.05" stroke-linejoin="round"/>
<rect x="375.5" y="281.9" width="133.10" height="102.90" fill="none" stroke="#231f20" stroke-width="1"/>
<text transform="translate(506.60,359.25) scale(1,1.05)" fill="#ee1d25" stroke="#ee1d25" stroke-width="0.18" font-size="10" text-anchor="end"><tspan font-style="italic">P</tspan> = 0.42</text>
<text transform="translate(506.60,371.15) scale(1,1.05)" fill="#20b4ee" stroke="#20b4ee" stroke-width="0.18" font-size="10" text-anchor="end"><tspan font-style="italic">P</tspan> = 1.26 X 10<tspan font-size="6.5" dy="-3.7">-3</tspan></text>
<text transform="translate(506.60,383.05) scale(1,1.05)" fill="#fcb814" stroke="#fcb814" stroke-width="0.18" font-size="10" text-anchor="end"><tspan font-style="italic">P</tspan> = 4.28 X 10<tspan font-size="6.5" dy="-3.7">-19</tspan></text>
<text transform="translate(370.40,425.75) scale(1,1.05)" fill="#151515" stroke="#151515" stroke-width="0.18" font-size="10" text-anchor="start" font-weight="normal" font-style="normal" >log<tspan font-size="6.4" dy="2.2">2</tspan></text>
<path d="M394.9,406.2 H389.2 V437.4 H394.9" fill="none" stroke="#151515" stroke-width="1"/>
<path d="M494.0,406.2 H499.7 V437.4 H494.0" fill="none" stroke="#151515" stroke-width="1"/>
<line x1="395.6" y1="421.9" x2="491.9" y2="421.9" stroke="#6d6e71" stroke-width="1"/>
<text transform="translate(443.80,418.85) scale(1,1.05)" fill="#151515" stroke="#151515" stroke-width="0.18" font-size="10" text-anchor="middle" font-weight="normal" font-style="normal" >siControl + Rapa &amp; CQ</text>
<text transform="translate(443.80,433.05) scale(1,1.05)" fill="#151515" stroke="#151515" stroke-width="0.18" font-size="10" text-anchor="middle" font-weight="normal" font-style="normal" >siControl + DMSO</text>
<text transform="translate(525.50,246.30) scale(1,1.0)" fill="#151515" stroke="#151515" stroke-width="0.35" font-size="17.6" text-anchor="start" font-weight="bold" font-style="normal" >g</text>
<line x1="568.60" y1="231.80" x2="574.60" y2="231.80" stroke="#151515" stroke-width="1.05"/>
<text transform="translate(578.00,235.55) scale(1,1.05)" fill="#151515" stroke="#151515" stroke-width="0.18" font-size="10" text-anchor="start" font-weight="normal" font-style="normal" >Non-targets (9862)</text>
<line x1="568.60" y1="245.40" x2="574.60" y2="245.40" stroke="#ee1d25" stroke-width="1.05"/>
<text transform="translate(578.00,249.15) scale(1,1.05)" fill="#ee1d25" stroke="#ee1d25" stroke-width="0.18" font-size="10" text-anchor="start" font-weight="normal" font-style="normal" >5′UTR (147)</text>
<line x1="568.60" y1="259.00" x2="574.60" y2="259.00" stroke="#20b4ee" stroke-width="1.05"/>
<text transform="translate(578.00,262.75) scale(1,1.05)" fill="#20b4ee" stroke="#20b4ee" stroke-width="0.18" font-size="10" text-anchor="start" font-weight="normal" font-style="normal" >CDS (624)</text>
<line x1="568.60" y1="272.60" x2="574.60" y2="272.60" stroke="#fcb814" stroke-width="1.05"/>
<text transform="translate(578.00,276.35) scale(1,1.05)" fill="#fcb814" stroke="#fcb814" stroke-width="0.18" font-size="10" text-anchor="start" font-weight="normal" font-style="normal" >3′UTR (691)</text>
<line x1="539.7" y1="384.70" x2="545.5" y2="384.70" stroke="#231f20" stroke-width="1"/>
<text transform="translate(537.30,389.35) scale(1,1.05)" fill="#151515" stroke="#151515" stroke-width="0.18" font-size="10" text-anchor="end" font-weight="normal" font-style="normal" >0.0</text>
<line x1="539.7" y1="364.10" x2="545.5" y2="364.10" stroke="#231f20" stroke-width="1"/>
<text transform="translate(537.30,368.75) scale(1,1.05)" fill="#151515" stroke="#151515" stroke-width="0.18" font-size="10" text-anchor="end" font-weight="normal" font-style="normal" >0.2</text>
<line x1="539.7" y1="343.50" x2="545.5" y2="343.50" stroke="#231f20" stroke-width="1"/>
<text transform="translate(537.30,348.15) scale(1,1.05)" fill="#151515" stroke="#151515" stroke-width="0.18" font-size="10" text-anchor="end" font-weight="normal" font-style="normal" >0.4</text>
<line x1="539.7" y1="322.90" x2="545.5" y2="322.90" stroke="#231f20" stroke-width="1"/>
<text transform="translate(537.30,327.55) scale(1,1.05)" fill="#151515" stroke="#151515" stroke-width="0.18" font-size="10" text-anchor="end" font-weight="normal" font-style="normal" >0.6</text>
<line x1="539.7" y1="302.30" x2="545.5" y2="302.30" stroke="#231f20" stroke-width="1"/>
<text transform="translate(537.30,306.95) scale(1,1.05)" fill="#151515" stroke="#151515" stroke-width="0.18" font-size="10" text-anchor="end" font-weight="normal" font-style="normal" >0.8</text>
<line x1="539.7" y1="281.70" x2="545.5" y2="281.70" stroke="#231f20" stroke-width="1"/>
<text transform="translate(537.30,286.35) scale(1,1.05)" fill="#151515" stroke="#151515" stroke-width="0.18" font-size="10" text-anchor="end" font-weight="normal" font-style="normal" >1.0</text>
<line x1="545.5" y1="384.7" x2="545.5" y2="390.5" stroke="#231f20" stroke-width="1"/>
<text transform="translate(545.50,401.35) scale(1,1.05)" fill="#151515" stroke="#151515" stroke-width="0.18" font-size="10" text-anchor="middle" font-weight="normal" font-style="normal" >-3.0</text>
<line x1="612.0" y1="384.7" x2="612.0" y2="390.5" stroke="#231f20" stroke-width="1"/>
<text transform="translate(612.00,401.35) scale(1,1.05)" fill="#151515" stroke="#151515" stroke-width="0.18" font-size="10" text-anchor="middle" font-weight="normal" font-style="normal" >0.0</text>
<line x1="678.5" y1="384.7" x2="678.5" y2="390.5" stroke="#231f20" stroke-width="1"/>
<text transform="translate(678.50,401.35) scale(1,1.05)" fill="#151515" stroke="#151515" stroke-width="0.18" font-size="10" text-anchor="middle" font-weight="normal" font-style="normal" >3.0</text>
<text transform="translate(552.70,296.85) scale(1,1.05)" fill="#151515" stroke="#151515" stroke-width="0.18" font-size="10" text-anchor="start" font-weight="normal" font-style="normal" >&#916; half-life</text>
<path d="M545.50,383.90 L546.49,383.89 L547.47,383.88 L548.46,383.88 L549.45,383.87 L550.43,383.86 L551.42,383.85 L552.40,383.85 L553.39,383.84 L554.38,383.84 L555.36,383.83 L556.35,383.83 L557.34,383.82 L558.32,383.82 L559.31,383.81 L560.30,383.81 L561.28,383.80 L562.27,383.80 L563.25,383.79 L564.24,383.79 L565.23,383.78 L566.21,383.78 L567.20,383.77 L568.19,383.77 L569.17,383.76 L570.16,383.76 L571.15,383.75 L572.13,383.74 L573.12,383.73 L574.10,383.72 L575.09,383.71 L576.08,383.70 L577.06,383.69 L578.05,383.68 L579.04,383.67 L580.02,383.66 L581.01,383.64 L582.00,383.63 L582.98,383.61 L583.97,383.60 L584.95,383.58 L585.94,383.56 L586.93,383.54 L587.91,383.52 L588.90,383.50 L589.80,383.44 L590.70,383.32 L591.60,383.14 L592.50,382.91 L593.40,382.64 L594.30,382.34 L595.20,382.03 L596.10,381.70 L596.95,381.35 L597.80,380.91 L598.65,380.40 L599.50,379.84 L600.35,379.24 L601.20,378.60 L602.02,377.95 L602.84,377.24 L603.66,376.44 L604.48,375.53 L605.30,374.50 L606.07,373.28 L606.85,371.78 L607.62,370.11 L608.40,368.40 L609.23,366.47 L610.07,364.40 L610.90,362.30 L611.75,360.21 L612.60,358.00 L613.37,355.78 L614.13,353.40 L614.90,350.90 L615.67,348.29 L616.43,345.54 L617.20,342.70 L617.97,339.65 L618.73,336.50 L619.50,333.60 L620.27,331.17 L621.03,328.94 L621.80,326.50 L622.10,325.32 L622.40,324.20 L623.13,322.18 L623.87,320.47 L624.60,318.70 L625.37,316.49 L626.13,314.21 L626.90,312.30 L627.67,310.89 L628.43,309.70 L629.20,308.60 L630.13,307.35 L631.07,306.19 L632.00,305.00 L632.90,303.78 L633.80,302.54 L634.70,301.30 L635.60,300.00 L636.50,298.70 L637.40,297.60 L638.17,296.86 L638.95,296.23 L639.73,295.63 L640.50,295.00 L641.42,294.16 L642.34,293.28 L643.26,292.40 L644.18,291.59 L645.10,290.90 L646.10,290.26 L647.10,289.66 L648.10,289.17 L649.10,288.80 L650.01,288.56 L650.93,288.37 L651.84,288.21 L652.76,288.06 L653.67,287.92 L654.59,287.77 L655.50,287.60 L656.43,287.40 L657.37,287.19 L658.30,286.97 L659.23,286.76 L660.17,286.57 L661.10,286.40 L662.00,286.26 L662.90,286.13 L663.80,286.00 L664.70,285.88 L665.60,285.77 L666.50,285.67 L667.40,285.57 L668.30,285.48 L669.20,285.40 L670.13,285.32 L671.06,285.26 L671.99,285.19 L672.92,285.13 L673.85,285.08 L674.78,285.02 L675.71,284.97 L676.64,284.91 L677.57,284.86 L678.50,284.80" fill="none" stroke="#f9ab1e" stroke-width="1.05" stroke-linejoin="round"/>
<path d="M545.50,383.20 L546.47,383.13 L547.44,383.06 L548.41,382.99 L549.38,382.92 L550.35,382.85 L551.32,382.78 L552.29,382.71 L553.26,382.64 L554.23,382.57 L555.20,382.50 L556.13,382.43 L557.05,382.36 L557.98,382.29 L558.91,382.22 L559.84,382.15 L560.76,382.08 L561.69,382.01 L562.62,381.93 L563.55,381.86 L564.47,381.78 L565.40,381.70 L566.34,381.62 L567.27,381.54 L568.21,381.46 L569.15,381.38 L570.08,381.30 L571.02,381.22 L571.95,381.13 L572.89,381.03 L573.83,380.93 L574.76,380.82 L575.70,380.70 L576.60,380.57 L577.50,380.43 L578.40,380.28 L579.30,380.11 L580.20,379.93 L581.10,379.73 L582.00,379.53 L582.90,379.32 L583.80,379.10 L584.69,378.87 L585.57,378.62 L586.46,378.36 L587.34,378.07 L588.23,377.77 L589.11,377.44 L590.00,377.10 L590.85,376.75 L591.70,376.38 L592.55,375.98 L593.40,375.54 L594.25,375.05 L595.10,374.50 L595.92,373.90 L596.74,373.20 L597.56,372.39 L598.38,371.46 L599.20,370.40 L600.03,368.98 L600.87,367.19 L601.70,365.30 L602.40,363.71 L603.10,362.02 L603.80,360.20 L604.50,358.12 L605.20,356.00 L606.15,353.46 L607.10,350.90 L607.87,348.56 L608.63,346.08 L609.40,343.60 L610.17,341.22 L610.93,338.84 L611.70,336.30 L612.65,332.70 L613.60,329.00 L614.50,325.80 L615.40,322.60 L616.15,319.69 L616.90,316.90 L617.63,314.55 L618.37,312.39 L619.10,310.40 L619.87,308.44 L620.63,306.62 L621.40,305.00 L622.33,303.28 L623.27,301.75 L624.20,300.40 L625.00,299.36 L625.80,298.41 L626.60,297.53 L627.40,296.70 L628.30,295.81 L629.20,294.97 L630.10,294.19 L631.00,293.50 L631.92,292.88 L632.84,292.31 L633.76,291.79 L634.68,291.29 L635.60,290.80 L636.58,290.27 L637.56,289.75 L638.54,289.25 L639.52,288.79 L640.50,288.40 L641.46,288.06 L642.41,287.75 L643.37,287.46 L644.32,287.19 L645.28,286.93 L646.23,286.69 L647.19,286.45 L648.14,286.22 L649.10,286.00 L650.10,285.77 L651.10,285.54 L652.10,285.31 L653.10,285.10 L654.10,284.90 L655.10,284.71 L656.10,284.54 L657.10,284.40 L658.00,284.29 L658.90,284.18 L659.80,284.08 L660.70,283.99 L661.60,283.90 L662.50,283.82 L663.40,283.74 L664.30,283.67 L665.20,283.60 L666.15,283.53 L667.10,283.46 L668.05,283.40 L669.00,283.34 L669.95,283.28 L670.90,283.23 L671.85,283.17 L672.80,283.12 L673.75,283.07 L674.70,283.02 L675.65,282.96 L676.60,282.91 L677.55,282.86 L678.50,282.80" fill="none" stroke="#2a2a2a" stroke-width="1.05" stroke-linejoin="round"/>
<path d="M545.50,383.70 L546.49,383.69 L547.47,383.69 L548.46,383.68 L549.44,383.67 L550.43,383.67 L551.41,383.66 L552.40,383.66 L553.38,383.66 L554.37,383.65 L555.35,383.65 L556.34,383.64 L557.32,383.64 L558.31,383.64 L559.30,383.63 L560.28,383.63 L561.27,383.62 L562.25,383.62 L563.24,383.62 L564.22,383.61 L565.21,383.61 L566.19,383.60 L567.18,383.60 L568.16,383.59 L569.15,383.59 L570.13,383.58 L571.12,383.58 L572.10,383.57 L573.09,383.56 L574.08,383.55 L575.06,383.54 L576.05,383.54 L577.03,383.53 L578.02,383.51 L579.00,383.50 L579.99,383.49 L580.97,383.48 L581.96,383.46 L582.94,383.45 L583.93,383.43 L584.91,383.42 L585.90,383.40 L586.79,383.35 L587.67,383.23 L588.56,383.05 L589.45,382.83 L590.34,382.58 L591.23,382.30 L592.11,382.00 L593.00,381.70 L593.82,381.40 L594.64,381.04 L595.46,380.63 L596.28,380.15 L597.10,379.60 L597.88,378.95 L598.65,378.12 L599.43,377.16 L600.20,376.10 L601.20,374.46 L602.20,372.50 L603.20,370.40 L604.07,368.60 L604.93,366.67 L605.80,364.30 L606.55,361.28 L607.30,358.00 L608.00,355.53 L608.70,353.23 L609.40,350.90 L610.17,348.18 L610.93,345.41 L611.70,342.70 L612.65,339.50 L613.60,336.30 L614.50,333.12 L615.40,329.90 L616.30,326.66 L617.20,323.50 L618.00,320.81 L618.80,318.30 L619.67,315.86 L620.53,313.59 L621.40,311.40 L622.17,309.49 L622.93,307.64 L623.70,305.90 L624.47,304.25 L625.23,302.70 L626.00,301.30 L626.80,300.01 L627.60,298.83 L628.40,297.74 L629.20,296.70 L630.15,295.49 L631.10,294.33 L632.05,293.28 L633.00,292.40 L633.95,291.69 L634.90,291.07 L635.85,290.51 L636.80,290.00 L637.72,289.54 L638.65,289.11 L639.58,288.71 L640.50,288.30 L641.42,287.88 L642.34,287.45 L643.26,287.03 L644.18,286.64 L645.10,286.30 L646.01,286.00 L646.93,285.72 L647.84,285.45 L648.76,285.21 L649.67,284.98 L650.59,284.78 L651.50,284.60 L652.40,284.44 L653.30,284.28 L654.20,284.13 L655.10,284.00 L656.00,283.87 L656.90,283.76 L657.80,283.67 L658.70,283.60 L659.69,283.53 L660.68,283.48 L661.67,283.42 L662.66,283.37 L663.65,283.32 L664.64,283.28 L665.63,283.24 L666.62,283.20 L667.61,283.16 L668.60,283.13 L669.59,283.10 L670.58,283.07 L671.57,283.04 L672.56,283.01 L673.55,282.97 L674.54,282.94 L675.53,282.91 L676.52,282.88 L677.51,282.84 L678.50,282.80" fill="none" stroke="#2cc5c8" stroke-width="1.05" stroke-linejoin="round"/>
<path d="M545.50,383.70 L565.40,383.40 L590.00,383.20 L592.00,380.10 L595.10,378.10 L598.10,375.00 L600.70,372.00 L602.20,368.40 L603.80,364.30 L605.30,358.20 L606.70,353.70 L608.10,348.20 L609.90,345.40 L610.80,340.00 L612.60,338.10 L613.60,332.60 L614.90,330.80 L615.40,326.20 L617.20,324.40 L617.70,320.70 L619.10,319.60 L620.10,315.50 L621.40,314.10 L622.40,310.40 L623.30,307.70 L623.70,305.00 L624.20,300.80 L625.60,299.50 L627.40,297.60 L629.20,295.80 L630.60,293.10 L632.40,290.30 L634.70,289.40 L637.40,288.50 L641.10,288.00 L645.10,287.20 L649.10,286.00 L653.10,284.80 L658.70,283.60 L665.20,283.50 L670.00,282.70 L678.50,282.20" fill="none" stroke="#ee1d25" stroke-width="1.05" stroke-linejoin="round"/>
<rect x="545.5" y="281.7" width="133.00" height="103.00" fill="none" stroke="#231f20" stroke-width="1"/>
<text transform="translate(676.20,359.95) scale(1,1.05)" fill="#ee1d25" stroke="#ee1d25" stroke-width="0.18" font-size="10" text-anchor="end"><tspan font-style="italic">P</tspan> = 0.02</text>
<text transform="translate(676.20,371.85) scale(1,1.05)" fill="#20b4ee" stroke="#20b4ee" stroke-width="0.18" font-size="10" text-anchor="end"><tspan font-style="italic">P</tspan> = 1.38 X 10<tspan font-size="6.5" dy="-3.7">-6</tspan></text>
<text transform="translate(676.20,383.75) scale(1,1.05)" fill="#fcb814" stroke="#fcb814" stroke-width="0.18" font-size="10" text-anchor="end"><tspan font-style="italic">P</tspan> = 3.19 X 10<tspan font-size="6.5" dy="-3.7">-45</tspan></text>
<text transform="translate(538.80,425.75) scale(1,1.05)" fill="#151515" stroke="#151515" stroke-width="0.18" font-size="10" text-anchor="start" font-weight="normal" font-style="normal" >log<tspan font-size="6.4" dy="2.2">2</tspan></text>
<path d="M563.3000000000001,406.2 H557.6 V437.4 H563.3000000000001" fill="none" stroke="#151515" stroke-width="1"/>
<path d="M662.6999999999999,406.2 H668.4 V437.4 H662.6999999999999" fill="none" stroke="#151515" stroke-width="1"/>
<line x1="565.0" y1="421.9" x2="661.5" y2="421.9" stroke="#6d6e71" stroke-width="1"/>
<text transform="translate(613.20,418.85) scale(1,1.05)" fill="#151515" stroke="#151515" stroke-width="0.18" font-size="10" text-anchor="middle" font-weight="normal" font-style="normal" >si<tspan font-style="italic">LC3B</tspan> + Rapa &amp; CQ</text>
<text transform="translate(613.20,433.05) scale(1,1.05)" fill="#151515" stroke="#151515" stroke-width="0.18" font-size="10" text-anchor="middle" font-weight="normal" font-style="normal" >siControl + Rapa &amp; CQ</text>
</svg>
</body></html>
